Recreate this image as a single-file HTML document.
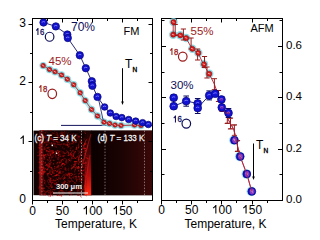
<!DOCTYPE html>
<html><head><meta charset="utf-8"><style>
html,body{margin:0;padding:0;background:#fff;width:304px;height:233px;overflow:hidden}
svg{display:block}
text{font-family:"Liberation Sans",sans-serif}
</style></head><body>
<svg width="304" height="233" viewBox="0 0 304 233">
<rect width="304" height="233" fill="#fff"/>
<rect x="33.5" y="130.6" width="118.5" height="64.6" fill="#120202"/>
<defs><linearGradient id="gd" x1="0" x2="1" y1="0" y2="0"><stop offset="0" stop-color="#0a0000"/><stop offset="0.5" stop-color="#1c0303"/><stop offset="1" stop-color="#3a0808"/></linearGradient><linearGradient id="gc" x1="0" x2="1" y1="0" y2="1"><stop offset="0" stop-color="#2a0404"/><stop offset="1" stop-color="#3a0606"/></linearGradient><radialGradient id="bright" cx="0.7" cy="0.9" r="0.8"><stop offset="0" stop-color="#ff1a10"/><stop offset="0.5" stop-color="#a00808"/><stop offset="1" stop-color="#200000" stop-opacity="0"/></radialGradient></defs>
<rect x="92" y="130.6" width="60" height="64.6" fill="url(#gd)"/>
<rect x="39.5" y="130.6" width="52.5" height="64.6" fill="#180202"/>
<line x1="54.6" y1="140.3" x2="53.7" y2="140.9" stroke="rgb(162,19,26)" stroke-width="0.8" opacity="0.85"/>
<line x1="49.5" y1="136.2" x2="50.9" y2="136.6" stroke="rgb(204,9,26)" stroke-width="0.8" opacity="0.87"/>
<line x1="68.8" y1="168.3" x2="67.8" y2="168.3" stroke="rgb(155,25,12)" stroke-width="1" opacity="0.58"/>
<line x1="64.6" y1="167.5" x2="66.1" y2="168.0" stroke="rgb(223,28,14)" stroke-width="1" opacity="0.40"/>
<line x1="72.6" y1="167.1" x2="71.3" y2="169.2" stroke="rgb(204,18,22)" stroke-width="1.2" opacity="0.86"/>
<line x1="56.3" y1="146.6" x2="56.1" y2="147.6" stroke="rgb(217,23,18)" stroke-width="1.2" opacity="0.60"/>
<line x1="67.8" y1="135.3" x2="66.7" y2="136.4" stroke="rgb(169,23,21)" stroke-width="0.8" opacity="0.88"/>
<line x1="43.1" y1="166.7" x2="44.1" y2="168.4" stroke="rgb(194,27,23)" stroke-width="1.2" opacity="0.79"/>
<line x1="42.7" y1="136.6" x2="43.7" y2="136.8" stroke="rgb(239,17,28)" stroke-width="1.2" opacity="0.90"/>
<line x1="77.7" y1="149.0" x2="76.7" y2="149.2" stroke="rgb(195,13,27)" stroke-width="0.8" opacity="0.62"/>
<line x1="49.6" y1="149.2" x2="50.5" y2="151.5" stroke="rgb(213,10,13)" stroke-width="1" opacity="0.57"/>
<line x1="52.4" y1="139.4" x2="54.3" y2="141.7" stroke="rgb(203,19,29)" stroke-width="1" opacity="0.88"/>
<line x1="46.5" y1="142.0" x2="48.0" y2="142.0" stroke="rgb(225,13,16)" stroke-width="1" opacity="0.35"/>
<line x1="59.0" y1="154.5" x2="58.1" y2="155.7" stroke="rgb(215,27,28)" stroke-width="1.2" opacity="0.76"/>
<line x1="60.7" y1="186.9" x2="61.7" y2="189.7" stroke="rgb(201,20,11)" stroke-width="1" opacity="0.70"/>
<line x1="42.4" y1="135.0" x2="43.8" y2="135.5" stroke="rgb(226,9,11)" stroke-width="0.8" opacity="0.66"/>
<line x1="64.5" y1="191.9" x2="63.5" y2="192.3" stroke="rgb(228,20,12)" stroke-width="1.2" opacity="0.49"/>
<line x1="55.7" y1="154.1" x2="55.8" y2="156.6" stroke="rgb(189,10,12)" stroke-width="0.8" opacity="0.76"/>
<line x1="73.9" y1="161.5" x2="76.9" y2="161.7" stroke="rgb(217,19,12)" stroke-width="1.2" opacity="0.65"/>
<line x1="40.8" y1="164.7" x2="40.2" y2="165.5" stroke="rgb(183,24,19)" stroke-width="0.8" opacity="0.55"/>
<line x1="49.9" y1="165.6" x2="49.3" y2="167.0" stroke="rgb(250,14,15)" stroke-width="1" opacity="0.76"/>
<line x1="50.0" y1="164.0" x2="49.0" y2="164.1" stroke="rgb(251,16,23)" stroke-width="1" opacity="0.46"/>
<line x1="67.6" y1="152.8" x2="65.7" y2="153.1" stroke="rgb(196,10,15)" stroke-width="0.8" opacity="0.47"/>
<line x1="48.6" y1="143.8" x2="46.0" y2="145.2" stroke="rgb(211,28,19)" stroke-width="1.2" opacity="0.40"/>
<line x1="70.2" y1="189.4" x2="70.3" y2="190.9" stroke="rgb(172,21,28)" stroke-width="1" opacity="0.40"/>
<line x1="83.5" y1="177.2" x2="82.8" y2="178.0" stroke="rgb(171,12,8)" stroke-width="0.8" opacity="0.67"/>
<line x1="61.1" y1="173.0" x2="58.1" y2="173.2" stroke="rgb(234,19,12)" stroke-width="1.2" opacity="0.65"/>
<line x1="40.5" y1="182.2" x2="40.4" y2="183.2" stroke="rgb(167,21,14)" stroke-width="0.8" opacity="0.37"/>
<line x1="49.4" y1="163.0" x2="50.8" y2="164.4" stroke="rgb(203,12,9)" stroke-width="1.2" opacity="0.54"/>
<line x1="60.8" y1="168.3" x2="58.7" y2="169.6" stroke="rgb(214,12,25)" stroke-width="0.8" opacity="0.64"/>
<line x1="40.4" y1="159.0" x2="39.6" y2="159.7" stroke="rgb(169,13,12)" stroke-width="1" opacity="0.69"/>
<line x1="45.1" y1="134.6" x2="44.6" y2="137.5" stroke="rgb(250,11,25)" stroke-width="0.8" opacity="0.49"/>
<line x1="52.4" y1="180.5" x2="55.4" y2="180.8" stroke="rgb(158,22,18)" stroke-width="1.2" opacity="0.89"/>
<line x1="67.7" y1="143.5" x2="67.6" y2="146.0" stroke="rgb(181,30,24)" stroke-width="1" opacity="0.86"/>
<line x1="57.7" y1="151.0" x2="60.2" y2="151.6" stroke="rgb(235,17,11)" stroke-width="0.8" opacity="0.87"/>
<line x1="61.2" y1="178.8" x2="59.8" y2="178.9" stroke="rgb(178,13,30)" stroke-width="1" opacity="0.90"/>
<line x1="58.3" y1="157.8" x2="57.6" y2="158.6" stroke="rgb(152,18,25)" stroke-width="1" opacity="0.59"/>
<line x1="40.3" y1="152.0" x2="37.4" y2="152.4" stroke="rgb(164,15,11)" stroke-width="0.8" opacity="0.50"/>
<line x1="41.3" y1="180.9" x2="40.1" y2="181.7" stroke="rgb(236,16,20)" stroke-width="0.8" opacity="0.65"/>
<line x1="76.7" y1="142.4" x2="74.7" y2="142.8" stroke="rgb(231,10,16)" stroke-width="0.8" opacity="0.68"/>
<line x1="85.7" y1="157.6" x2="88.5" y2="158.8" stroke="rgb(217,30,15)" stroke-width="0.8" opacity="0.88"/>
<line x1="51.7" y1="142.3" x2="51.5" y2="144.3" stroke="rgb(176,17,22)" stroke-width="1.2" opacity="0.72"/>
<line x1="52.1" y1="182.5" x2="53.1" y2="182.6" stroke="rgb(243,24,25)" stroke-width="0.8" opacity="0.63"/>
<line x1="50.9" y1="159.5" x2="49.7" y2="161.7" stroke="rgb(219,20,24)" stroke-width="1" opacity="0.73"/>
<line x1="85.2" y1="152.7" x2="85.6" y2="154.2" stroke="rgb(194,9,12)" stroke-width="0.8" opacity="0.39"/>
<line x1="78.6" y1="186.8" x2="78.0" y2="188.7" stroke="rgb(238,17,9)" stroke-width="1" opacity="0.45"/>
<line x1="52.0" y1="130.8" x2="50.0" y2="131.0" stroke="rgb(220,18,15)" stroke-width="0.8" opacity="0.88"/>
<line x1="61.6" y1="163.1" x2="62.5" y2="163.4" stroke="rgb(254,10,12)" stroke-width="1" opacity="0.67"/>
<line x1="57.8" y1="150.0" x2="57.6" y2="150.9" stroke="rgb(217,12,29)" stroke-width="1.2" opacity="0.78"/>
<line x1="67.2" y1="180.0" x2="69.5" y2="181.1" stroke="rgb(242,27,28)" stroke-width="0.8" opacity="0.37"/>
<line x1="78.3" y1="188.2" x2="81.1" y2="189.5" stroke="rgb(217,24,26)" stroke-width="0.8" opacity="0.80"/>
<line x1="66.7" y1="188.3" x2="68.1" y2="188.7" stroke="rgb(155,12,28)" stroke-width="1" opacity="0.88"/>
<line x1="42.8" y1="190.8" x2="42.3" y2="191.7" stroke="rgb(158,23,16)" stroke-width="0.8" opacity="0.82"/>
<line x1="50.4" y1="179.5" x2="50.5" y2="182.0" stroke="rgb(198,10,23)" stroke-width="1.2" opacity="0.51"/>
<line x1="41.7" y1="171.5" x2="44.4" y2="172.8" stroke="rgb(182,28,30)" stroke-width="1" opacity="0.69"/>
<line x1="45.7" y1="161.8" x2="45.1" y2="162.6" stroke="rgb(236,23,17)" stroke-width="1.2" opacity="0.63"/>
<line x1="61.1" y1="160.7" x2="61.9" y2="162.0" stroke="rgb(160,23,8)" stroke-width="1" opacity="0.60"/>
<line x1="49.3" y1="191.7" x2="52.1" y2="192.5" stroke="rgb(245,24,16)" stroke-width="1" opacity="0.42"/>
<line x1="77.6" y1="163.5" x2="79.1" y2="164.8" stroke="rgb(212,20,8)" stroke-width="0.8" opacity="0.35"/>
<line x1="55.5" y1="151.0" x2="56.0" y2="151.9" stroke="rgb(193,20,11)" stroke-width="0.8" opacity="0.74"/>
<line x1="52.3" y1="133.7" x2="51.5" y2="135.5" stroke="rgb(169,15,16)" stroke-width="1" opacity="0.63"/>
<line x1="48.3" y1="154.7" x2="47.5" y2="155.3" stroke="rgb(230,20,25)" stroke-width="1.2" opacity="0.46"/>
<line x1="43.2" y1="190.9" x2="41.1" y2="193.0" stroke="rgb(232,17,23)" stroke-width="0.8" opacity="0.85"/>
<line x1="51.4" y1="178.3" x2="50.2" y2="180.5" stroke="rgb(188,23,25)" stroke-width="1.2" opacity="0.57"/>
<line x1="47.3" y1="141.0" x2="46.9" y2="143.5" stroke="rgb(207,18,22)" stroke-width="1" opacity="0.43"/>
<line x1="48.4" y1="136.5" x2="49.0" y2="137.3" stroke="rgb(197,16,26)" stroke-width="0.8" opacity="0.84"/>
<line x1="74.4" y1="157.3" x2="76.0" y2="159.1" stroke="rgb(246,9,23)" stroke-width="1" opacity="0.67"/>
<line x1="56.2" y1="175.0" x2="57.7" y2="175.4" stroke="rgb(181,20,20)" stroke-width="1.2" opacity="0.60"/>
<line x1="83.9" y1="185.4" x2="84.8" y2="185.8" stroke="rgb(204,30,23)" stroke-width="1.2" opacity="0.62"/>
<line x1="42.9" y1="190.7" x2="40.2" y2="192.0" stroke="rgb(207,15,11)" stroke-width="0.8" opacity="0.43"/>
<line x1="63.8" y1="174.7" x2="66.2" y2="175.3" stroke="rgb(249,9,8)" stroke-width="0.8" opacity="0.48"/>
<line x1="51.2" y1="171.7" x2="52.2" y2="172.0" stroke="rgb(188,24,26)" stroke-width="0.8" opacity="0.56"/>
<line x1="60.9" y1="192.5" x2="61.0" y2="194.0" stroke="rgb(180,25,15)" stroke-width="0.8" opacity="0.88"/>
<line x1="70.9" y1="157.7" x2="72.4" y2="159.0" stroke="rgb(154,30,18)" stroke-width="1.2" opacity="0.58"/>
<line x1="71.2" y1="143.4" x2="74.2" y2="144.0" stroke="rgb(213,14,17)" stroke-width="0.8" opacity="0.48"/>
<line x1="49.8" y1="179.7" x2="49.8" y2="182.7" stroke="rgb(173,15,23)" stroke-width="1" opacity="0.85"/>
<line x1="42.1" y1="169.0" x2="42.9" y2="169.6" stroke="rgb(226,12,21)" stroke-width="0.8" opacity="0.74"/>
<line x1="48.1" y1="159.6" x2="46.7" y2="161.1" stroke="rgb(160,13,18)" stroke-width="0.8" opacity="0.45"/>
<line x1="83.0" y1="178.8" x2="80.8" y2="180.0" stroke="rgb(192,22,13)" stroke-width="0.8" opacity="0.35"/>
<line x1="52.5" y1="153.3" x2="52.3" y2="154.3" stroke="rgb(247,14,20)" stroke-width="1" opacity="0.77"/>
<line x1="53.9" y1="182.5" x2="54.4" y2="183.9" stroke="rgb(207,14,18)" stroke-width="1" opacity="0.76"/>
<line x1="61.6" y1="171.4" x2="64.0" y2="171.7" stroke="rgb(154,22,10)" stroke-width="0.8" opacity="0.49"/>
<line x1="84.0" y1="170.5" x2="82.1" y2="170.9" stroke="rgb(188,8,27)" stroke-width="1.2" opacity="0.87"/>
<line x1="42.5" y1="184.0" x2="40.1" y2="184.3" stroke="rgb(199,16,21)" stroke-width="1" opacity="0.42"/>
<line x1="62.6" y1="131.2" x2="60.9" y2="132.2" stroke="rgb(248,12,27)" stroke-width="0.8" opacity="0.53"/>
<line x1="54.4" y1="154.0" x2="54.3" y2="155.0" stroke="rgb(200,13,15)" stroke-width="1" opacity="0.39"/>
<line x1="41.1" y1="166.3" x2="38.7" y2="167.2" stroke="rgb(159,16,27)" stroke-width="0.8" opacity="0.46"/>
<line x1="59.1" y1="194.5" x2="60.2" y2="195.5" stroke="rgb(203,22,27)" stroke-width="1.2" opacity="0.48"/>
<line x1="64.5" y1="180.6" x2="65.8" y2="182.2" stroke="rgb(222,16,19)" stroke-width="1" opacity="0.76"/>
<line x1="48.8" y1="146.6" x2="49.7" y2="147.7" stroke="rgb(224,14,18)" stroke-width="0.8" opacity="0.57"/>
<line x1="85.6" y1="163.4" x2="83.1" y2="163.4" stroke="rgb(163,8,23)" stroke-width="0.8" opacity="0.81"/>
<line x1="48.3" y1="193.5" x2="48.7" y2="194.4" stroke="rgb(172,22,27)" stroke-width="1" opacity="0.78"/>
<line x1="70.4" y1="131.0" x2="71.8" y2="133.7" stroke="rgb(154,19,18)" stroke-width="0.8" opacity="0.37"/>
<line x1="86.0" y1="133.1" x2="85.2" y2="133.6" stroke="rgb(202,29,19)" stroke-width="0.8" opacity="0.69"/>
<line x1="43.1" y1="132.6" x2="45.6" y2="133.1" stroke="rgb(162,20,29)" stroke-width="1.2" opacity="0.44"/>
<line x1="75.1" y1="182.4" x2="73.5" y2="184.3" stroke="rgb(176,8,21)" stroke-width="0.8" opacity="0.58"/>
<line x1="77.6" y1="156.8" x2="75.8" y2="158.5" stroke="rgb(166,8,9)" stroke-width="1.2" opacity="0.43"/>
<line x1="77.0" y1="156.2" x2="79.6" y2="157.8" stroke="rgb(194,17,13)" stroke-width="1.2" opacity="0.44"/>
<line x1="42.6" y1="155.4" x2="43.5" y2="156.6" stroke="rgb(155,23,18)" stroke-width="0.8" opacity="0.68"/>
<line x1="69.1" y1="136.2" x2="68.5" y2="137.5" stroke="rgb(178,27,20)" stroke-width="1.2" opacity="0.82"/>
<line x1="73.2" y1="188.6" x2="72.7" y2="189.4" stroke="rgb(191,11,20)" stroke-width="1.2" opacity="0.60"/>
<line x1="51.1" y1="155.7" x2="51.7" y2="158.7" stroke="rgb(152,8,27)" stroke-width="1" opacity="0.61"/>
<line x1="60.3" y1="170.6" x2="59.0" y2="171.4" stroke="rgb(201,11,10)" stroke-width="0.8" opacity="0.55"/>
<line x1="56.5" y1="182.4" x2="57.5" y2="182.6" stroke="rgb(166,10,18)" stroke-width="1.2" opacity="0.63"/>
<line x1="42.0" y1="163.2" x2="43.5" y2="163.3" stroke="rgb(158,27,30)" stroke-width="0.8" opacity="0.46"/>
<line x1="85.2" y1="162.4" x2="84.3" y2="163.6" stroke="rgb(242,15,10)" stroke-width="1" opacity="0.69"/>
<line x1="51.2" y1="151.5" x2="53.5" y2="152.6" stroke="rgb(214,23,14)" stroke-width="1.2" opacity="0.49"/>
<line x1="47.0" y1="191.1" x2="49.2" y2="192.4" stroke="rgb(250,16,11)" stroke-width="1.2" opacity="0.38"/>
<line x1="79.4" y1="193.0" x2="80.1" y2="193.7" stroke="rgb(218,28,20)" stroke-width="1.2" opacity="0.79"/>
<line x1="51.8" y1="194.6" x2="52.8" y2="196.3" stroke="rgb(160,22,15)" stroke-width="0.8" opacity="0.69"/>
<line x1="84.4" y1="186.8" x2="83.1" y2="188.3" stroke="rgb(245,9,15)" stroke-width="0.8" opacity="0.51"/>
<line x1="65.9" y1="150.2" x2="68.2" y2="152.2" stroke="rgb(224,17,26)" stroke-width="0.8" opacity="0.46"/>
<line x1="68.5" y1="161.3" x2="67.6" y2="162.5" stroke="rgb(207,11,10)" stroke-width="1.2" opacity="0.43"/>
<line x1="70.4" y1="148.0" x2="71.4" y2="148.2" stroke="rgb(255,25,19)" stroke-width="1.2" opacity="0.71"/>
<line x1="60.1" y1="191.1" x2="61.4" y2="191.9" stroke="rgb(150,9,9)" stroke-width="1.2" opacity="0.36"/>
<line x1="48.1" y1="140.9" x2="49.1" y2="140.9" stroke="rgb(220,29,14)" stroke-width="0.8" opacity="0.58"/>
<line x1="63.6" y1="172.1" x2="61.5" y2="173.5" stroke="rgb(172,24,17)" stroke-width="0.8" opacity="0.52"/>
<line x1="41.8" y1="188.1" x2="44.8" y2="188.1" stroke="rgb(205,22,10)" stroke-width="1.2" opacity="0.71"/>
<line x1="47.7" y1="195.0" x2="48.6" y2="195.4" stroke="rgb(245,30,16)" stroke-width="1.2" opacity="0.38"/>
<line x1="69.1" y1="174.5" x2="66.1" y2="174.7" stroke="rgb(187,28,14)" stroke-width="0.8" opacity="0.83"/>
<line x1="40.2" y1="147.4" x2="38.7" y2="147.7" stroke="rgb(245,18,14)" stroke-width="1" opacity="0.53"/>
<line x1="50.6" y1="189.2" x2="50.9" y2="192.2" stroke="rgb(217,30,8)" stroke-width="0.8" opacity="0.59"/>
<line x1="68.5" y1="135.6" x2="69.9" y2="135.8" stroke="rgb(164,11,27)" stroke-width="0.8" opacity="0.54"/>
<line x1="46.1" y1="132.5" x2="45.5" y2="133.3" stroke="rgb(244,9,10)" stroke-width="1.2" opacity="0.77"/>
<line x1="48.8" y1="192.3" x2="47.8" y2="192.6" stroke="rgb(246,30,20)" stroke-width="0.8" opacity="0.49"/>
<line x1="48.9" y1="132.8" x2="48.1" y2="133.3" stroke="rgb(230,28,17)" stroke-width="1" opacity="0.40"/>
<line x1="44.1" y1="179.5" x2="45.0" y2="181.3" stroke="rgb(183,8,19)" stroke-width="1" opacity="0.86"/>
<line x1="41.8" y1="179.7" x2="41.7" y2="182.7" stroke="rgb(186,27,8)" stroke-width="1" opacity="0.37"/>
<line x1="63.6" y1="137.0" x2="63.5" y2="137.9" stroke="rgb(177,30,10)" stroke-width="1.2" opacity="0.80"/>
<line x1="47.4" y1="130.7" x2="48.4" y2="130.7" stroke="rgb(212,11,23)" stroke-width="1.2" opacity="0.79"/>
<line x1="48.1" y1="162.5" x2="50.1" y2="164.7" stroke="rgb(170,17,14)" stroke-width="1.2" opacity="0.48"/>
<line x1="47.2" y1="191.2" x2="45.2" y2="192.8" stroke="rgb(239,25,11)" stroke-width="1.2" opacity="0.53"/>
<line x1="43.9" y1="190.6" x2="44.2" y2="191.6" stroke="rgb(232,8,19)" stroke-width="0.8" opacity="0.52"/>
<line x1="59.4" y1="165.8" x2="57.9" y2="166.1" stroke="rgb(166,25,27)" stroke-width="1.2" opacity="0.76"/>
<line x1="78.7" y1="173.4" x2="78.9" y2="174.9" stroke="rgb(238,16,26)" stroke-width="0.8" opacity="0.42"/>
<line x1="53.5" y1="176.0" x2="52.6" y2="177.2" stroke="rgb(181,18,27)" stroke-width="1.2" opacity="0.54"/>
<line x1="50.5" y1="192.3" x2="51.4" y2="192.8" stroke="rgb(234,11,14)" stroke-width="1" opacity="0.43"/>
<line x1="46.4" y1="150.1" x2="48.0" y2="151.3" stroke="rgb(231,11,16)" stroke-width="0.8" opacity="0.84"/>
<line x1="61.1" y1="131.4" x2="59.6" y2="133.5" stroke="rgb(214,28,17)" stroke-width="1" opacity="0.36"/>
<line x1="79.2" y1="175.9" x2="78.4" y2="177.2" stroke="rgb(233,28,30)" stroke-width="1.2" opacity="0.82"/>
<line x1="68.7" y1="136.9" x2="69.8" y2="138.0" stroke="rgb(204,23,22)" stroke-width="0.8" opacity="0.69"/>
<line x1="58.5" y1="174.2" x2="57.1" y2="174.7" stroke="rgb(191,8,20)" stroke-width="1" opacity="0.85"/>
<line x1="44.4" y1="146.8" x2="44.4" y2="148.3" stroke="rgb(162,26,22)" stroke-width="1.2" opacity="0.46"/>
<line x1="61.6" y1="131.6" x2="61.5" y2="133.6" stroke="rgb(202,22,14)" stroke-width="1.2" opacity="0.45"/>
<line x1="63.4" y1="190.9" x2="64.7" y2="193.5" stroke="rgb(157,16,16)" stroke-width="1" opacity="0.57"/>
<line x1="40.1" y1="157.6" x2="39.6" y2="159.6" stroke="rgb(163,15,17)" stroke-width="1.2" opacity="0.57"/>
<line x1="83.8" y1="193.4" x2="84.1" y2="195.8" stroke="rgb(171,12,10)" stroke-width="1.2" opacity="0.46"/>
<line x1="69.4" y1="177.2" x2="70.0" y2="178.5" stroke="rgb(231,21,22)" stroke-width="1" opacity="0.77"/>
<line x1="69.7" y1="181.0" x2="70.7" y2="182.1" stroke="rgb(198,29,16)" stroke-width="1" opacity="0.72"/>
<line x1="61.9" y1="182.6" x2="63.3" y2="184.0" stroke="rgb(188,18,23)" stroke-width="1" opacity="0.59"/>
<line x1="69.1" y1="173.2" x2="71.6" y2="173.6" stroke="rgb(255,26,18)" stroke-width="0.8" opacity="0.64"/>
<line x1="55.5" y1="168.2" x2="54.1" y2="168.5" stroke="rgb(233,17,16)" stroke-width="1.2" opacity="0.41"/>
<line x1="46.1" y1="145.7" x2="44.6" y2="146.9" stroke="rgb(176,20,25)" stroke-width="0.8" opacity="0.69"/>
<line x1="71.5" y1="193.7" x2="69.1" y2="195.6" stroke="rgb(188,14,23)" stroke-width="1.2" opacity="0.47"/>
<line x1="43.2" y1="184.8" x2="43.0" y2="185.8" stroke="rgb(183,21,15)" stroke-width="0.8" opacity="0.61"/>
<line x1="65.4" y1="161.9" x2="67.2" y2="163.6" stroke="rgb(171,25,27)" stroke-width="1.2" opacity="0.35"/>
<line x1="78.6" y1="160.8" x2="79.6" y2="163.1" stroke="rgb(203,29,10)" stroke-width="0.8" opacity="0.70"/>
<line x1="69.1" y1="132.4" x2="67.4" y2="133.6" stroke="rgb(162,24,23)" stroke-width="1" opacity="0.77"/>
<line x1="46.2" y1="144.4" x2="46.9" y2="145.7" stroke="rgb(234,19,18)" stroke-width="1" opacity="0.78"/>
<line x1="51.2" y1="134.0" x2="49.5" y2="135.0" stroke="rgb(201,18,24)" stroke-width="1" opacity="0.83"/>
<line x1="55.5" y1="143.7" x2="56.0" y2="144.6" stroke="rgb(190,30,17)" stroke-width="0.8" opacity="0.67"/>
<line x1="69.0" y1="181.3" x2="68.7" y2="183.7" stroke="rgb(156,20,17)" stroke-width="0.8" opacity="0.35"/>
<line x1="48.3" y1="190.1" x2="47.5" y2="190.7" stroke="rgb(219,27,20)" stroke-width="1.2" opacity="0.43"/>
<line x1="70.8" y1="175.1" x2="71.6" y2="175.7" stroke="rgb(235,28,22)" stroke-width="1.2" opacity="0.77"/>
<line x1="44.2" y1="142.3" x2="44.6" y2="143.2" stroke="rgb(255,12,17)" stroke-width="1.2" opacity="0.74"/>
<line x1="65.8" y1="168.0" x2="65.3" y2="170.4" stroke="rgb(155,11,21)" stroke-width="1.2" opacity="0.73"/>
<line x1="58.3" y1="134.9" x2="57.5" y2="137.8" stroke="rgb(234,12,23)" stroke-width="1" opacity="0.65"/>
<line x1="43.4" y1="161.1" x2="43.6" y2="162.1" stroke="rgb(151,29,29)" stroke-width="0.8" opacity="0.89"/>
<line x1="52.3" y1="167.4" x2="50.9" y2="167.7" stroke="rgb(196,30,30)" stroke-width="0.8" opacity="0.75"/>
<line x1="43.4" y1="171.2" x2="42.1" y2="173.4" stroke="rgb(182,9,30)" stroke-width="0.8" opacity="0.36"/>
<line x1="40.2" y1="172.6" x2="40.5" y2="173.6" stroke="rgb(189,27,13)" stroke-width="1" opacity="0.68"/>
<line x1="54.2" y1="191.9" x2="52.9" y2="194.0" stroke="rgb(168,11,19)" stroke-width="1.2" opacity="0.44"/>
<line x1="76.8" y1="161.4" x2="74.3" y2="161.8" stroke="rgb(250,26,18)" stroke-width="1" opacity="0.50"/>
<line x1="68.4" y1="172.7" x2="69.9" y2="175.2" stroke="rgb(227,8,12)" stroke-width="1.2" opacity="0.81"/>
<line x1="82.3" y1="179.9" x2="80.6" y2="180.9" stroke="rgb(253,26,12)" stroke-width="1" opacity="0.89"/>
<line x1="76.6" y1="166.0" x2="77.7" y2="168.2" stroke="rgb(160,25,25)" stroke-width="1" opacity="0.79"/>
<line x1="48.8" y1="179.1" x2="49.7" y2="180.3" stroke="rgb(157,29,20)" stroke-width="1" opacity="0.74"/>
<line x1="58.0" y1="164.3" x2="58.2" y2="166.3" stroke="rgb(225,14,14)" stroke-width="0.8" opacity="0.46"/>
<line x1="47.9" y1="175.9" x2="49.2" y2="178.6" stroke="rgb(249,24,12)" stroke-width="0.8" opacity="0.37"/>
<line x1="85.9" y1="154.8" x2="86.7" y2="155.2" stroke="rgb(226,8,19)" stroke-width="1" opacity="0.64"/>
<line x1="40.5" y1="132.8" x2="40.6" y2="135.8" stroke="rgb(222,14,16)" stroke-width="1" opacity="0.58"/>
<line x1="83.5" y1="180.2" x2="84.6" y2="181.2" stroke="rgb(154,18,14)" stroke-width="0.8" opacity="0.56"/>
<line x1="40.8" y1="132.8" x2="40.9" y2="135.3" stroke="rgb(158,27,28)" stroke-width="1" opacity="0.86"/>
<line x1="43.7" y1="190.1" x2="43.9" y2="191.6" stroke="rgb(170,19,15)" stroke-width="1.2" opacity="0.47"/>
<line x1="41.3" y1="147.1" x2="38.4" y2="148.0" stroke="rgb(156,16,24)" stroke-width="1.2" opacity="0.76"/>
<line x1="39.8" y1="143.5" x2="38.9" y2="146.3" stroke="rgb(247,28,11)" stroke-width="1" opacity="0.53"/>
<line x1="51.5" y1="138.6" x2="51.7" y2="140.1" stroke="rgb(253,12,29)" stroke-width="0.8" opacity="0.61"/>
<line x1="81.9" y1="182.2" x2="81.0" y2="182.4" stroke="rgb(197,12,22)" stroke-width="0.8" opacity="0.86"/>
<line x1="57.4" y1="132.0" x2="55.7" y2="133.1" stroke="rgb(211,11,28)" stroke-width="1" opacity="0.43"/>
<line x1="49.8" y1="134.3" x2="47.0" y2="135.3" stroke="rgb(206,12,16)" stroke-width="1" opacity="0.58"/>
<line x1="46.7" y1="148.1" x2="45.1" y2="149.3" stroke="rgb(183,23,11)" stroke-width="1" opacity="0.60"/>
<line x1="61.9" y1="140.5" x2="61.7" y2="142.0" stroke="rgb(186,11,16)" stroke-width="0.8" opacity="0.88"/>
<line x1="57.6" y1="157.5" x2="59.4" y2="158.3" stroke="rgb(231,8,22)" stroke-width="1.2" opacity="0.54"/>
<line x1="46.0" y1="130.7" x2="47.9" y2="133.1" stroke="rgb(196,21,9)" stroke-width="1" opacity="0.47"/>
<line x1="66.1" y1="139.5" x2="67.3" y2="140.4" stroke="rgb(160,10,27)" stroke-width="1.2" opacity="0.62"/>
<line x1="52.2" y1="143.9" x2="51.8" y2="145.4" stroke="rgb(175,8,10)" stroke-width="1.2" opacity="0.75"/>
<line x1="58.5" y1="177.2" x2="59.7" y2="178.8" stroke="rgb(231,23,10)" stroke-width="0.8" opacity="0.58"/>
<line x1="75.0" y1="139.2" x2="76.2" y2="140.0" stroke="rgb(196,9,13)" stroke-width="1.2" opacity="0.55"/>
<line x1="67.2" y1="130.9" x2="64.7" y2="131.1" stroke="rgb(159,11,19)" stroke-width="1.2" opacity="0.48"/>
<line x1="78.1" y1="189.6" x2="77.5" y2="192.0" stroke="rgb(157,17,11)" stroke-width="1.2" opacity="0.62"/>
<line x1="63.4" y1="164.9" x2="64.1" y2="165.6" stroke="rgb(161,15,27)" stroke-width="0.8" opacity="0.44"/>
<line x1="54.0" y1="166.5" x2="55.0" y2="166.8" stroke="rgb(239,14,16)" stroke-width="0.8" opacity="0.81"/>
<line x1="61.1" y1="168.4" x2="62.0" y2="168.8" stroke="rgb(201,12,25)" stroke-width="1.2" opacity="0.48"/>
<line x1="50.1" y1="173.8" x2="52.2" y2="175.0" stroke="rgb(255,8,28)" stroke-width="1" opacity="0.73"/>
<line x1="67.3" y1="169.5" x2="66.5" y2="170.2" stroke="rgb(193,20,15)" stroke-width="1" opacity="0.74"/>
<line x1="78.7" y1="167.1" x2="77.0" y2="168.2" stroke="rgb(221,9,18)" stroke-width="1.2" opacity="0.43"/>
<line x1="71.1" y1="153.4" x2="71.5" y2="154.3" stroke="rgb(217,13,10)" stroke-width="1" opacity="0.59"/>
<line x1="63.0" y1="131.9" x2="62.0" y2="134.2" stroke="rgb(253,9,9)" stroke-width="1.2" opacity="0.69"/>
<line x1="82.2" y1="170.9" x2="81.8" y2="171.8" stroke="rgb(182,11,24)" stroke-width="0.8" opacity="0.59"/>
<line x1="83.7" y1="149.2" x2="84.7" y2="149.4" stroke="rgb(215,16,10)" stroke-width="1" opacity="0.67"/>
<line x1="82.8" y1="159.0" x2="82.2" y2="161.4" stroke="rgb(185,15,10)" stroke-width="1.2" opacity="0.65"/>
<line x1="78.5" y1="170.0" x2="78.3" y2="171.5" stroke="rgb(196,22,25)" stroke-width="1" opacity="0.69"/>
<line x1="63.3" y1="155.4" x2="62.4" y2="155.6" stroke="rgb(170,15,18)" stroke-width="1.2" opacity="0.53"/>
<line x1="52.1" y1="187.3" x2="51.3" y2="188.0" stroke="rgb(170,25,10)" stroke-width="1.2" opacity="0.83"/>
<line x1="60.0" y1="134.6" x2="61.1" y2="136.8" stroke="rgb(247,11,24)" stroke-width="0.8" opacity="0.89"/>
<line x1="71.0" y1="190.9" x2="70.2" y2="192.2" stroke="rgb(228,27,16)" stroke-width="1.2" opacity="0.40"/>
<line x1="79.3" y1="190.2" x2="77.8" y2="191.4" stroke="rgb(240,28,30)" stroke-width="0.8" opacity="0.58"/>
<line x1="44.3" y1="157.1" x2="44.3" y2="158.1" stroke="rgb(223,12,21)" stroke-width="1" opacity="0.83"/>
<line x1="73.1" y1="149.5" x2="72.0" y2="151.8" stroke="rgb(150,23,20)" stroke-width="1" opacity="0.52"/>
<line x1="64.5" y1="182.5" x2="63.8" y2="184.9" stroke="rgb(161,18,18)" stroke-width="1.2" opacity="0.81"/>
<line x1="84.1" y1="143.8" x2="85.1" y2="143.9" stroke="rgb(182,26,23)" stroke-width="1" opacity="0.86"/>
<line x1="75.5" y1="165.4" x2="72.9" y2="166.9" stroke="rgb(243,29,21)" stroke-width="1" opacity="0.61"/>
<line x1="41.4" y1="174.3" x2="40.9" y2="175.1" stroke="rgb(217,15,11)" stroke-width="1" opacity="0.56"/>
<line x1="58.1" y1="166.9" x2="56.7" y2="167.0" stroke="rgb(212,20,22)" stroke-width="1.2" opacity="0.84"/>
<line x1="66.8" y1="175.3" x2="67.7" y2="175.8" stroke="rgb(190,19,10)" stroke-width="1" opacity="0.63"/>
<line x1="44.6" y1="188.4" x2="41.8" y2="189.4" stroke="rgb(203,28,13)" stroke-width="1.2" opacity="0.51"/>
<line x1="68.8" y1="169.6" x2="68.2" y2="170.4" stroke="rgb(151,8,17)" stroke-width="1.2" opacity="0.73"/>
<line x1="39.7" y1="150.3" x2="42.7" y2="150.4" stroke="rgb(153,14,13)" stroke-width="1" opacity="0.77"/>
<line x1="65.9" y1="186.9" x2="62.9" y2="186.9" stroke="rgb(223,14,21)" stroke-width="1.2" opacity="0.42"/>
<line x1="47.4" y1="164.4" x2="48.1" y2="167.3" stroke="rgb(252,9,28)" stroke-width="0.8" opacity="0.73"/>
<line x1="41.0" y1="171.2" x2="44.0" y2="171.8" stroke="rgb(174,22,27)" stroke-width="1" opacity="0.36"/>
<line x1="49.7" y1="156.2" x2="49.9" y2="157.2" stroke="rgb(229,15,15)" stroke-width="0.8" opacity="0.37"/>
<line x1="82.8" y1="185.8" x2="84.2" y2="187.9" stroke="rgb(227,16,23)" stroke-width="0.8" opacity="0.48"/>
<line x1="80.2" y1="161.9" x2="81.6" y2="162.3" stroke="rgb(171,19,20)" stroke-width="0.8" opacity="0.35"/>
<line x1="80.0" y1="152.3" x2="77.9" y2="153.6" stroke="rgb(194,25,15)" stroke-width="1" opacity="0.46"/>
<line x1="52.7" y1="145.9" x2="51.1" y2="147.1" stroke="rgb(180,30,12)" stroke-width="0.8" opacity="0.46"/>
<line x1="64.8" y1="181.5" x2="62.7" y2="182.7" stroke="rgb(253,15,13)" stroke-width="1" opacity="0.54"/>
<line x1="73.1" y1="154.9" x2="74.0" y2="156.2" stroke="rgb(210,24,14)" stroke-width="0.8" opacity="0.82"/>
<line x1="70.9" y1="191.5" x2="68.0" y2="192.4" stroke="rgb(225,19,25)" stroke-width="0.8" opacity="0.57"/>
<line x1="63.2" y1="138.7" x2="66.1" y2="139.6" stroke="rgb(184,20,8)" stroke-width="1.2" opacity="0.75"/>
<line x1="46.2" y1="131.6" x2="45.1" y2="132.5" stroke="rgb(179,18,14)" stroke-width="1.2" opacity="0.84"/>
<line x1="42.7" y1="189.6" x2="44.3" y2="190.8" stroke="rgb(241,17,10)" stroke-width="0.8" opacity="0.51"/>
<line x1="77.5" y1="156.4" x2="75.6" y2="158.0" stroke="rgb(230,12,16)" stroke-width="0.8" opacity="0.37"/>
<line x1="70.1" y1="175.8" x2="68.2" y2="176.4" stroke="rgb(162,13,17)" stroke-width="0.8" opacity="0.50"/>
<line x1="67.8" y1="144.8" x2="70.3" y2="145.1" stroke="rgb(170,21,14)" stroke-width="1" opacity="0.44"/>
<line x1="73.8" y1="166.3" x2="73.5" y2="167.8" stroke="rgb(179,26,23)" stroke-width="1.2" opacity="0.64"/>
<line x1="82.5" y1="173.9" x2="81.7" y2="174.4" stroke="rgb(249,28,17)" stroke-width="0.8" opacity="0.83"/>
<line x1="66.7" y1="175.6" x2="67.7" y2="175.7" stroke="rgb(190,14,19)" stroke-width="1.2" opacity="0.85"/>
<line x1="58.9" y1="178.7" x2="56.3" y2="180.2" stroke="rgb(185,24,10)" stroke-width="1" opacity="0.87"/>
<line x1="59.2" y1="190.7" x2="59.1" y2="193.2" stroke="rgb(236,30,14)" stroke-width="1" opacity="0.72"/>
<line x1="47.1" y1="181.0" x2="48.5" y2="182.5" stroke="rgb(157,13,19)" stroke-width="1" opacity="0.58"/>
<line x1="48.9" y1="150.7" x2="50.7" y2="152.4" stroke="rgb(180,8,24)" stroke-width="1.2" opacity="0.59"/>
<line x1="83.0" y1="153.3" x2="82.6" y2="154.7" stroke="rgb(180,18,28)" stroke-width="0.8" opacity="0.65"/>
<line x1="74.9" y1="141.5" x2="71.9" y2="141.7" stroke="rgb(248,20,14)" stroke-width="0.8" opacity="0.73"/>
<line x1="40.1" y1="162.0" x2="41.2" y2="163.7" stroke="rgb(164,30,17)" stroke-width="1" opacity="0.88"/>
<line x1="47.0" y1="159.4" x2="48.7" y2="160.4" stroke="rgb(159,9,8)" stroke-width="1" opacity="0.90"/>
<line x1="74.4" y1="136.0" x2="76.4" y2="138.2" stroke="rgb(232,23,21)" stroke-width="1" opacity="0.45"/>
<line x1="64.8" y1="131.1" x2="64.0" y2="133.0" stroke="rgb(243,28,30)" stroke-width="1" opacity="0.71"/>
<line x1="46.2" y1="154.4" x2="43.6" y2="155.8" stroke="rgb(237,13,11)" stroke-width="1.2" opacity="0.81"/>
<line x1="74.0" y1="151.7" x2="75.5" y2="153.0" stroke="rgb(167,25,19)" stroke-width="1" opacity="0.48"/>
<line x1="41.4" y1="167.2" x2="39.0" y2="168.0" stroke="rgb(177,23,21)" stroke-width="1" opacity="0.75"/>
<line x1="50.1" y1="139.5" x2="52.5" y2="140.2" stroke="rgb(155,22,23)" stroke-width="0.8" opacity="0.47"/>
<line x1="56.8" y1="132.7" x2="57.5" y2="135.6" stroke="rgb(186,10,29)" stroke-width="0.8" opacity="0.63"/>
<line x1="59.1" y1="152.5" x2="57.7" y2="152.9" stroke="rgb(171,20,17)" stroke-width="0.8" opacity="0.59"/>
<line x1="54.6" y1="160.3" x2="53.1" y2="160.5" stroke="rgb(227,27,10)" stroke-width="0.8" opacity="0.75"/>
<line x1="54.9" y1="173.1" x2="52.4" y2="173.5" stroke="rgb(211,29,28)" stroke-width="0.8" opacity="0.51"/>
<line x1="71.1" y1="159.5" x2="70.7" y2="161.5" stroke="rgb(203,19,24)" stroke-width="0.8" opacity="0.66"/>
<line x1="57.9" y1="138.0" x2="55.8" y2="140.1" stroke="rgb(178,16,28)" stroke-width="0.8" opacity="0.45"/>
<line x1="64.7" y1="175.6" x2="64.0" y2="178.5" stroke="rgb(202,29,10)" stroke-width="1" opacity="0.42"/>
<line x1="62.9" y1="163.4" x2="62.5" y2="164.3" stroke="rgb(242,24,11)" stroke-width="1" opacity="0.81"/>
<line x1="57.7" y1="141.7" x2="58.0" y2="144.7" stroke="rgb(161,12,19)" stroke-width="1.2" opacity="0.38"/>
<line x1="50.5" y1="154.7" x2="50.7" y2="156.1" stroke="rgb(165,30,12)" stroke-width="1" opacity="0.85"/>
<line x1="43.6" y1="194.5" x2="42.6" y2="194.7" stroke="rgb(195,13,19)" stroke-width="1.2" opacity="0.81"/>
<line x1="50.6" y1="163.8" x2="49.3" y2="165.3" stroke="rgb(155,27,19)" stroke-width="0.8" opacity="0.55"/>
<line x1="54.7" y1="169.6" x2="55.8" y2="170.6" stroke="rgb(174,30,22)" stroke-width="0.8" opacity="0.81"/>
<line x1="71.5" y1="155.2" x2="68.5" y2="155.2" stroke="rgb(247,16,22)" stroke-width="0.8" opacity="0.36"/>
<line x1="78.4" y1="135.4" x2="79.4" y2="138.3" stroke="rgb(210,13,30)" stroke-width="1" opacity="0.57"/>
<line x1="49.6" y1="188.4" x2="50.3" y2="189.0" stroke="rgb(254,19,22)" stroke-width="1" opacity="0.67"/>
<line x1="57.5" y1="153.4" x2="59.1" y2="154.8" stroke="rgb(181,22,27)" stroke-width="0.8" opacity="0.70"/>
<line x1="85.6" y1="153.7" x2="84.1" y2="153.7" stroke="rgb(154,25,11)" stroke-width="0.8" opacity="0.78"/>
<line x1="76.5" y1="187.0" x2="77.1" y2="187.8" stroke="rgb(247,18,19)" stroke-width="1.2" opacity="0.82"/>
<line x1="50.9" y1="187.0" x2="52.9" y2="187.4" stroke="rgb(193,29,18)" stroke-width="1" opacity="0.63"/>
<line x1="81.1" y1="182.9" x2="82.4" y2="183.5" stroke="rgb(150,29,22)" stroke-width="1" opacity="0.60"/>
<line x1="53.5" y1="150.5" x2="52.1" y2="153.2" stroke="rgb(193,10,14)" stroke-width="1.2" opacity="0.86"/>
<line x1="84.6" y1="175.2" x2="86.0" y2="177.3" stroke="rgb(172,16,16)" stroke-width="1.2" opacity="0.36"/>
<line x1="47.2" y1="147.9" x2="48.6" y2="148.1" stroke="rgb(207,14,27)" stroke-width="1" opacity="0.83"/>
<line x1="69.6" y1="143.3" x2="69.2" y2="144.7" stroke="rgb(160,10,26)" stroke-width="1" opacity="0.75"/>
<line x1="39.7" y1="148.1" x2="39.3" y2="149.0" stroke="rgb(153,14,18)" stroke-width="1" opacity="0.83"/>
<line x1="40.8" y1="162.0" x2="42.5" y2="163.1" stroke="rgb(203,9,10)" stroke-width="1.2" opacity="0.69"/>
<line x1="75.6" y1="194.4" x2="76.6" y2="194.5" stroke="rgb(190,26,28)" stroke-width="1" opacity="0.38"/>
<line x1="46.8" y1="139.8" x2="47.2" y2="140.7" stroke="rgb(196,21,19)" stroke-width="1.2" opacity="0.72"/>
<line x1="79.8" y1="140.5" x2="81.3" y2="143.1" stroke="rgb(244,27,16)" stroke-width="1.2" opacity="0.61"/>
<line x1="41.0" y1="172.4" x2="38.0" y2="172.6" stroke="rgb(208,25,16)" stroke-width="1" opacity="0.64"/>
<line x1="70.0" y1="180.6" x2="70.4" y2="182.0" stroke="rgb(161,8,27)" stroke-width="0.8" opacity="0.42"/>
<line x1="64.8" y1="143.8" x2="62.8" y2="144.2" stroke="rgb(196,12,13)" stroke-width="1.2" opacity="0.82"/>
<line x1="75.7" y1="164.7" x2="73.2" y2="164.9" stroke="rgb(213,14,28)" stroke-width="1" opacity="0.85"/>
<line x1="57.6" y1="144.3" x2="58.5" y2="144.6" stroke="rgb(243,8,10)" stroke-width="1.2" opacity="0.85"/>
<line x1="81.7" y1="154.9" x2="82.4" y2="155.6" stroke="rgb(183,30,21)" stroke-width="0.8" opacity="0.48"/>
<line x1="48.9" y1="179.6" x2="47.1" y2="180.4" stroke="rgb(213,14,26)" stroke-width="0.8" opacity="0.61"/>
<line x1="82.9" y1="180.3" x2="81.7" y2="181.1" stroke="rgb(186,10,18)" stroke-width="0.8" opacity="0.62"/>
<line x1="80.9" y1="141.0" x2="82.9" y2="142.6" stroke="rgb(156,14,19)" stroke-width="0.8" opacity="0.78"/>
<line x1="79.6" y1="142.4" x2="78.5" y2="144.0" stroke="rgb(253,11,12)" stroke-width="0.8" opacity="0.42"/>
<line x1="53.6" y1="163.1" x2="53.7" y2="164.6" stroke="rgb(200,10,21)" stroke-width="1" opacity="0.70"/>
<line x1="70.4" y1="156.2" x2="72.7" y2="158.2" stroke="rgb(251,28,30)" stroke-width="0.8" opacity="0.37"/>
<line x1="63.0" y1="145.6" x2="62.3" y2="146.3" stroke="rgb(156,18,10)" stroke-width="0.8" opacity="0.42"/>
<line x1="62.2" y1="139.4" x2="63.3" y2="140.3" stroke="rgb(219,12,28)" stroke-width="1.2" opacity="0.65"/>
<line x1="85.7" y1="164.8" x2="86.1" y2="165.7" stroke="rgb(177,15,10)" stroke-width="1" opacity="0.74"/>
<line x1="40.2" y1="148.0" x2="40.2" y2="149.5" stroke="rgb(202,25,19)" stroke-width="1" opacity="0.36"/>
<line x1="71.5" y1="172.8" x2="73.0" y2="175.4" stroke="rgb(202,30,16)" stroke-width="1" opacity="0.58"/>
<line x1="64.6" y1="155.3" x2="62.6" y2="156.8" stroke="rgb(231,8,15)" stroke-width="1.2" opacity="0.63"/>
<line x1="85.5" y1="175.4" x2="84.7" y2="176.7" stroke="rgb(161,27,9)" stroke-width="1.2" opacity="0.38"/>
<line x1="71.8" y1="151.6" x2="70.3" y2="154.1" stroke="rgb(208,26,8)" stroke-width="1" opacity="0.76"/>
<line x1="79.2" y1="163.6" x2="77.9" y2="164.3" stroke="rgb(251,20,19)" stroke-width="1.2" opacity="0.39"/>
<line x1="84.9" y1="147.8" x2="84.5" y2="148.7" stroke="rgb(219,29,15)" stroke-width="1.2" opacity="0.77"/>
<line x1="51.7" y1="184.9" x2="51.6" y2="186.9" stroke="rgb(211,26,15)" stroke-width="0.8" opacity="0.39"/>
<line x1="56.5" y1="174.1" x2="55.9" y2="175.5" stroke="rgb(255,28,9)" stroke-width="1" opacity="0.56"/>
<line x1="51.2" y1="137.2" x2="51.0" y2="140.2" stroke="rgb(207,29,10)" stroke-width="1" opacity="0.57"/>
<line x1="76.6" y1="179.6" x2="76.7" y2="181.6" stroke="rgb(234,15,27)" stroke-width="1" opacity="0.64"/>
<line x1="51.6" y1="168.8" x2="53.5" y2="171.0" stroke="rgb(191,16,15)" stroke-width="1" opacity="0.81"/>
<line x1="43.7" y1="171.7" x2="45.1" y2="172.3" stroke="rgb(251,17,27)" stroke-width="1" opacity="0.86"/>
<line x1="72.9" y1="154.9" x2="73.4" y2="157.3" stroke="rgb(227,16,19)" stroke-width="0.8" opacity="0.56"/>
<line x1="66.4" y1="190.3" x2="67.6" y2="193.1" stroke="rgb(235,14,18)" stroke-width="0.8" opacity="0.39"/>
<line x1="60.2" y1="156.0" x2="61.2" y2="156.3" stroke="rgb(222,22,22)" stroke-width="1.2" opacity="0.81"/>
<line x1="58.8" y1="161.2" x2="59.6" y2="163.6" stroke="rgb(167,24,8)" stroke-width="1.2" opacity="0.48"/>
<line x1="48.8" y1="165.6" x2="48.5" y2="167.6" stroke="rgb(248,20,22)" stroke-width="0.8" opacity="0.40"/>
<line x1="78.9" y1="144.5" x2="78.0" y2="145.7" stroke="rgb(211,9,25)" stroke-width="1.2" opacity="0.76"/>
<line x1="68.6" y1="151.3" x2="67.1" y2="151.4" stroke="rgb(185,24,16)" stroke-width="0.8" opacity="0.52"/>
<line x1="51.4" y1="186.1" x2="48.5" y2="187.1" stroke="rgb(237,9,17)" stroke-width="1" opacity="0.49"/>
<line x1="57.2" y1="158.8" x2="58.8" y2="160.0" stroke="rgb(156,14,25)" stroke-width="1.2" opacity="0.56"/>
<line x1="61.1" y1="162.2" x2="59.1" y2="162.6" stroke="rgb(193,14,22)" stroke-width="1.2" opacity="0.66"/>
<line x1="41.9" y1="150.9" x2="39.4" y2="151.3" stroke="rgb(255,18,9)" stroke-width="1" opacity="0.47"/>
<line x1="59.9" y1="143.6" x2="60.3" y2="146.5" stroke="rgb(243,22,14)" stroke-width="0.8" opacity="0.38"/>
<line x1="59.7" y1="171.9" x2="58.8" y2="172.4" stroke="rgb(213,13,8)" stroke-width="1.2" opacity="0.66"/>
<line x1="76.7" y1="162.8" x2="75.1" y2="164.0" stroke="rgb(218,13,12)" stroke-width="1.2" opacity="0.46"/>
<line x1="44.2" y1="136.8" x2="44.5" y2="137.7" stroke="rgb(234,16,30)" stroke-width="1" opacity="0.73"/>
<line x1="46.7" y1="134.3" x2="47.6" y2="134.7" stroke="rgb(207,17,15)" stroke-width="1.2" opacity="0.79"/>
<line x1="65.0" y1="144.5" x2="65.5" y2="145.9" stroke="rgb(154,18,20)" stroke-width="0.8" opacity="0.70"/>
<line x1="73.4" y1="158.4" x2="74.4" y2="158.5" stroke="rgb(195,11,29)" stroke-width="0.8" opacity="0.90"/>
<line x1="74.4" y1="162.7" x2="75.2" y2="163.3" stroke="rgb(185,17,27)" stroke-width="1.2" opacity="0.65"/>
<line x1="43.6" y1="139.6" x2="43.2" y2="141.1" stroke="rgb(188,9,26)" stroke-width="1.2" opacity="0.41"/>
<line x1="39.6" y1="143.2" x2="41.5" y2="143.5" stroke="rgb(192,19,22)" stroke-width="1" opacity="0.49"/>
<line x1="74.0" y1="142.2" x2="72.4" y2="143.3" stroke="rgb(242,25,22)" stroke-width="0.8" opacity="0.76"/>
<line x1="44.8" y1="141.0" x2="45.7" y2="141.1" stroke="rgb(215,26,11)" stroke-width="1" opacity="0.71"/>
<line x1="45.6" y1="167.9" x2="44.3" y2="169.4" stroke="rgb(243,13,19)" stroke-width="0.8" opacity="0.71"/>
<line x1="43.7" y1="130.9" x2="45.1" y2="133.0" stroke="rgb(183,11,11)" stroke-width="0.8" opacity="0.41"/>
<line x1="47.1" y1="165.2" x2="45.2" y2="165.5" stroke="rgb(186,20,25)" stroke-width="0.8" opacity="0.89"/>
<line x1="43.9" y1="137.4" x2="46.3" y2="139.3" stroke="rgb(245,15,10)" stroke-width="0.8" opacity="0.43"/>
<line x1="51.8" y1="132.6" x2="54.6" y2="133.6" stroke="rgb(222,11,10)" stroke-width="1.2" opacity="0.67"/>
<line x1="50.4" y1="169.1" x2="49.5" y2="169.6" stroke="rgb(159,27,18)" stroke-width="0.8" opacity="0.37"/>
<line x1="68.2" y1="175.3" x2="70.2" y2="175.8" stroke="rgb(247,22,26)" stroke-width="0.8" opacity="0.36"/>
<line x1="50.9" y1="178.0" x2="49.7" y2="178.9" stroke="rgb(248,12,14)" stroke-width="0.8" opacity="0.86"/>
<line x1="42.7" y1="169.6" x2="41.8" y2="170.1" stroke="rgb(250,21,10)" stroke-width="1.2" opacity="0.74"/>
<line x1="55.7" y1="141.1" x2="58.0" y2="142.1" stroke="rgb(238,17,9)" stroke-width="1.2" opacity="0.61"/>
<line x1="69.2" y1="191.2" x2="69.0" y2="194.2" stroke="rgb(230,11,10)" stroke-width="1" opacity="0.76"/>
<line x1="78.9" y1="146.1" x2="78.3" y2="148.5" stroke="rgb(237,30,9)" stroke-width="1" opacity="0.71"/>
<line x1="57.9" y1="171.1" x2="56.2" y2="172.1" stroke="rgb(201,10,15)" stroke-width="1.2" opacity="0.72"/>
<line x1="76.3" y1="173.4" x2="74.3" y2="175.0" stroke="rgb(150,17,23)" stroke-width="1.2" opacity="0.36"/>
<line x1="44.6" y1="183.1" x2="46.4" y2="185.5" stroke="rgb(168,18,25)" stroke-width="0.8" opacity="0.40"/>
<line x1="85.6" y1="142.7" x2="84.4" y2="144.9" stroke="rgb(253,15,11)" stroke-width="0.8" opacity="0.73"/>
<line x1="41.4" y1="183.8" x2="42.4" y2="185.5" stroke="rgb(169,19,13)" stroke-width="0.8" opacity="0.54"/>
<line x1="77.4" y1="187.6" x2="77.4" y2="189.6" stroke="rgb(214,27,14)" stroke-width="0.8" opacity="0.57"/>
<line x1="39.9" y1="185.7" x2="40.1" y2="187.2" stroke="rgb(253,29,16)" stroke-width="1.2" opacity="0.54"/>
<line x1="44.2" y1="166.3" x2="42.7" y2="168.9" stroke="rgb(167,16,29)" stroke-width="1" opacity="0.39"/>
<line x1="68.5" y1="159.3" x2="69.7" y2="160.9" stroke="rgb(240,28,29)" stroke-width="1" opacity="0.87"/>
<line x1="77.1" y1="134.5" x2="78.1" y2="136.7" stroke="rgb(152,9,29)" stroke-width="0.8" opacity="0.66"/>
<line x1="60.3" y1="179.1" x2="58.2" y2="181.2" stroke="rgb(154,18,23)" stroke-width="0.8" opacity="0.35"/>
<line x1="83.1" y1="148.1" x2="86.0" y2="148.6" stroke="rgb(200,13,26)" stroke-width="1.2" opacity="0.89"/>
<line x1="68.7" y1="146.2" x2="68.9" y2="147.2" stroke="rgb(202,28,10)" stroke-width="1.2" opacity="0.70"/>
<line x1="62.4" y1="193.6" x2="64.2" y2="194.5" stroke="rgb(223,23,9)" stroke-width="1.2" opacity="0.54"/>
<line x1="46.0" y1="163.9" x2="46.9" y2="165.2" stroke="rgb(216,13,29)" stroke-width="1" opacity="0.85"/>
<line x1="66.8" y1="193.4" x2="64.8" y2="193.6" stroke="rgb(173,16,17)" stroke-width="1" opacity="0.46"/>
<line x1="57.8" y1="155.5" x2="59.7" y2="156.2" stroke="rgb(229,22,24)" stroke-width="1" opacity="0.70"/>
<line x1="75.7" y1="150.9" x2="74.5" y2="153.1" stroke="rgb(235,21,10)" stroke-width="1" opacity="0.57"/>
<line x1="72.9" y1="156.2" x2="73.5" y2="156.9" stroke="rgb(248,8,9)" stroke-width="1.2" opacity="0.80"/>
<line x1="65.8" y1="153.4" x2="63.8" y2="153.6" stroke="rgb(158,25,11)" stroke-width="1.2" opacity="0.72"/>
<line x1="69.5" y1="193.1" x2="68.7" y2="193.7" stroke="rgb(200,18,20)" stroke-width="1" opacity="0.62"/>
<line x1="55.2" y1="186.5" x2="55.0" y2="188.0" stroke="rgb(216,21,29)" stroke-width="1" opacity="0.42"/>
<line x1="55.3" y1="134.9" x2="58.3" y2="134.9" stroke="rgb(223,29,15)" stroke-width="1.2" opacity="0.59"/>
<line x1="49.4" y1="177.7" x2="50.8" y2="178.4" stroke="rgb(235,15,24)" stroke-width="0.8" opacity="0.84"/>
<line x1="81.3" y1="178.6" x2="79.0" y2="179.5" stroke="rgb(166,28,30)" stroke-width="1.2" opacity="0.56"/>
<line x1="81.2" y1="176.6" x2="78.6" y2="178.2" stroke="rgb(184,27,14)" stroke-width="0.8" opacity="0.52"/>
<line x1="56.2" y1="167.4" x2="56.7" y2="168.3" stroke="rgb(239,24,10)" stroke-width="0.8" opacity="0.81"/>
<line x1="54.6" y1="130.8" x2="54.9" y2="132.3" stroke="rgb(214,9,22)" stroke-width="1.2" opacity="0.66"/>
<line x1="77.0" y1="133.2" x2="77.1" y2="134.2" stroke="rgb(187,28,18)" stroke-width="1" opacity="0.64"/>
<line x1="50.2" y1="166.6" x2="48.5" y2="167.5" stroke="rgb(253,26,25)" stroke-width="1.2" opacity="0.37"/>
<line x1="42.4" y1="171.3" x2="45.2" y2="172.3" stroke="rgb(199,24,26)" stroke-width="1" opacity="0.47"/>
<line x1="79.8" y1="194.9" x2="81.4" y2="197.5" stroke="rgb(182,10,28)" stroke-width="1" opacity="0.67"/>
<line x1="59.6" y1="193.2" x2="60.0" y2="196.2" stroke="rgb(193,27,14)" stroke-width="0.8" opacity="0.57"/>
<line x1="52.6" y1="143.1" x2="55.6" y2="143.3" stroke="rgb(249,14,30)" stroke-width="1.2" opacity="0.46"/>
<line x1="51.9" y1="166.8" x2="50.4" y2="168.2" stroke="rgb(152,27,8)" stroke-width="0.8" opacity="0.54"/>
<line x1="58.9" y1="184.6" x2="61.0" y2="186.8" stroke="rgb(195,28,13)" stroke-width="1.2" opacity="0.70"/>
<line x1="56.0" y1="188.7" x2="54.1" y2="190.3" stroke="rgb(193,11,12)" stroke-width="1" opacity="0.78"/>
<line x1="61.4" y1="194.6" x2="61.6" y2="196.6" stroke="rgb(255,12,11)" stroke-width="1.2" opacity="0.66"/>
<line x1="81.8" y1="176.5" x2="82.4" y2="179.4" stroke="rgb(243,20,13)" stroke-width="1" opacity="0.42"/>
<line x1="40.1" y1="144.4" x2="42.6" y2="144.6" stroke="rgb(254,10,22)" stroke-width="0.8" opacity="0.46"/>
<line x1="66.1" y1="189.6" x2="65.4" y2="191.5" stroke="rgb(209,23,28)" stroke-width="0.8" opacity="0.35"/>
<line x1="49.0" y1="153.5" x2="48.7" y2="154.5" stroke="rgb(166,14,22)" stroke-width="1" opacity="0.66"/>
<line x1="82.3" y1="174.9" x2="82.1" y2="175.9" stroke="rgb(242,9,23)" stroke-width="0.8" opacity="0.57"/>
<line x1="70.8" y1="176.7" x2="70.0" y2="179.1" stroke="rgb(165,23,27)" stroke-width="1" opacity="0.38"/>
<line x1="50.6" y1="194.4" x2="50.1" y2="196.8" stroke="rgb(245,15,28)" stroke-width="1.2" opacity="0.76"/>
<line x1="41.3" y1="136.7" x2="42.3" y2="136.8" stroke="rgb(156,20,15)" stroke-width="0.8" opacity="0.78"/>
<line x1="41.6" y1="166.5" x2="43.3" y2="168.4" stroke="rgb(169,22,8)" stroke-width="1" opacity="0.77"/>
<line x1="44.3" y1="193.5" x2="45.7" y2="194.1" stroke="rgb(217,13,27)" stroke-width="1.2" opacity="0.53"/>
<line x1="63.2" y1="192.4" x2="62.3" y2="192.9" stroke="rgb(221,28,10)" stroke-width="1.2" opacity="0.66"/>
<line x1="68.0" y1="181.8" x2="67.5" y2="182.6" stroke="rgb(228,17,22)" stroke-width="1" opacity="0.72"/>
<line x1="65.5" y1="144.1" x2="67.5" y2="145.6" stroke="rgb(240,28,14)" stroke-width="1.2" opacity="0.59"/>
<line x1="44.6" y1="193.7" x2="43.6" y2="195.4" stroke="rgb(161,15,11)" stroke-width="0.8" opacity="0.55"/>
<line x1="53.6" y1="179.9" x2="52.1" y2="181.2" stroke="rgb(150,10,10)" stroke-width="0.8" opacity="0.41"/>
<line x1="58.4" y1="170.1" x2="57.5" y2="170.3" stroke="rgb(157,30,8)" stroke-width="1.2" opacity="0.72"/>
<line x1="79.0" y1="158.4" x2="78.5" y2="159.8" stroke="rgb(187,22,16)" stroke-width="1.2" opacity="0.42"/>
<line x1="47.0" y1="141.1" x2="45.2" y2="142.8" stroke="rgb(246,18,16)" stroke-width="0.8" opacity="0.36"/>
<line x1="64.5" y1="152.6" x2="62.6" y2="153.1" stroke="rgb(192,8,15)" stroke-width="1" opacity="0.79"/>
<line x1="64.2" y1="137.4" x2="64.7" y2="139.3" stroke="rgb(193,19,10)" stroke-width="1.2" opacity="0.42"/>
<line x1="60.8" y1="144.3" x2="59.3" y2="144.6" stroke="rgb(202,24,30)" stroke-width="1.2" opacity="0.40"/>
<line x1="49.4" y1="149.2" x2="48.8" y2="149.9" stroke="rgb(205,30,11)" stroke-width="0.8" opacity="0.69"/>
<line x1="68.1" y1="141.4" x2="66.6" y2="142.8" stroke="rgb(181,18,16)" stroke-width="0.8" opacity="0.40"/>
<line x1="79.8" y1="172.0" x2="82.5" y2="173.3" stroke="rgb(158,27,10)" stroke-width="1.2" opacity="0.57"/>
<line x1="43.1" y1="177.7" x2="43.5" y2="178.6" stroke="rgb(168,25,11)" stroke-width="1.2" opacity="0.62"/>
<line x1="84.6" y1="175.0" x2="83.2" y2="175.5" stroke="rgb(182,17,20)" stroke-width="1" opacity="0.73"/>
<line x1="47.6" y1="194.5" x2="48.7" y2="196.7" stroke="rgb(176,8,20)" stroke-width="0.8" opacity="0.41"/>
<line x1="49.2" y1="153.3" x2="52.2" y2="153.4" stroke="rgb(174,10,10)" stroke-width="0.8" opacity="0.78"/>
<line x1="52.0" y1="190.7" x2="52.8" y2="192.5" stroke="rgb(242,13,12)" stroke-width="1" opacity="0.78"/>
<line x1="51.2" y1="154.3" x2="50.3" y2="154.6" stroke="rgb(251,13,17)" stroke-width="1" opacity="0.86"/>
<line x1="40.9" y1="172.5" x2="38.7" y2="173.6" stroke="rgb(180,28,23)" stroke-width="1" opacity="0.83"/>
<line x1="41.9" y1="173.5" x2="42.8" y2="174.6" stroke="rgb(210,22,23)" stroke-width="0.8" opacity="0.41"/>
<line x1="48.4" y1="147.8" x2="46.9" y2="148.1" stroke="rgb(221,9,10)" stroke-width="1.2" opacity="0.47"/>
<line x1="74.1" y1="167.0" x2="76.5" y2="167.8" stroke="rgb(205,24,9)" stroke-width="0.8" opacity="0.64"/>
<line x1="61.3" y1="191.7" x2="62.7" y2="192.1" stroke="rgb(207,28,18)" stroke-width="0.8" opacity="0.46"/>
<line x1="70.3" y1="153.9" x2="72.1" y2="155.7" stroke="rgb(215,8,28)" stroke-width="1.2" opacity="0.80"/>
<line x1="69.7" y1="180.5" x2="69.0" y2="181.8" stroke="rgb(168,20,18)" stroke-width="1.2" opacity="0.37"/>
<line x1="79.4" y1="173.0" x2="79.1" y2="174.0" stroke="rgb(242,10,22)" stroke-width="0.8" opacity="0.82"/>
<line x1="52.8" y1="193.6" x2="51.4" y2="195.0" stroke="rgb(224,14,10)" stroke-width="1" opacity="0.36"/>
<line x1="47.2" y1="153.9" x2="47.3" y2="154.8" stroke="rgb(215,23,29)" stroke-width="0.8" opacity="0.69"/>
<line x1="49.6" y1="184.5" x2="51.2" y2="186.4" stroke="rgb(246,18,9)" stroke-width="1" opacity="0.45"/>
<line x1="58.7" y1="176.4" x2="59.8" y2="177.4" stroke="rgb(150,12,27)" stroke-width="1" opacity="0.68"/>
<line x1="61.6" y1="166.0" x2="63.0" y2="167.4" stroke="rgb(165,16,21)" stroke-width="0.8" opacity="0.85"/>
<line x1="85.9" y1="139.3" x2="87.0" y2="140.3" stroke="rgb(171,10,26)" stroke-width="1" opacity="0.78"/>
<line x1="51.3" y1="167.4" x2="49.8" y2="167.6" stroke="rgb(184,30,21)" stroke-width="0.8" opacity="0.38"/>
<line x1="52.9" y1="193.1" x2="55.4" y2="193.6" stroke="rgb(198,17,29)" stroke-width="1.2" opacity="0.74"/>
<line x1="66.6" y1="159.4" x2="65.8" y2="162.3" stroke="rgb(252,19,24)" stroke-width="1.2" opacity="0.46"/>
<line x1="43.0" y1="188.6" x2="41.7" y2="189.2" stroke="rgb(182,28,15)" stroke-width="1" opacity="0.55"/>
<line x1="63.9" y1="174.4" x2="62.2" y2="176.9" stroke="rgb(177,29,18)" stroke-width="0.8" opacity="0.59"/>
<line x1="55.3" y1="179.7" x2="55.5" y2="181.2" stroke="rgb(191,15,21)" stroke-width="0.8" opacity="0.88"/>
<line x1="49.1" y1="157.0" x2="49.7" y2="158.4" stroke="rgb(240,19,20)" stroke-width="1.2" opacity="0.62"/>
<line x1="56.5" y1="195.0" x2="58.3" y2="195.7" stroke="rgb(215,12,20)" stroke-width="1.2" opacity="0.58"/>
<line x1="43.1" y1="168.2" x2="42.7" y2="171.2" stroke="rgb(194,30,21)" stroke-width="1" opacity="0.45"/>
<line x1="61.9" y1="131.7" x2="62.4" y2="133.2" stroke="rgb(164,28,17)" stroke-width="1.2" opacity="0.70"/>
<line x1="69.0" y1="176.1" x2="69.6" y2="177.5" stroke="rgb(188,28,16)" stroke-width="0.8" opacity="0.80"/>
<line x1="67.5" y1="185.5" x2="70.4" y2="185.9" stroke="rgb(151,27,25)" stroke-width="1" opacity="0.75"/>
<line x1="63.8" y1="151.3" x2="61.5" y2="152.2" stroke="rgb(192,9,10)" stroke-width="1" opacity="0.44"/>
<line x1="43.7" y1="170.9" x2="45.6" y2="171.7" stroke="rgb(243,18,18)" stroke-width="1.2" opacity="0.62"/>
<line x1="48.3" y1="190.6" x2="47.6" y2="191.3" stroke="rgb(238,21,20)" stroke-width="1" opacity="0.74"/>
<line x1="50.2" y1="182.1" x2="51.1" y2="182.3" stroke="rgb(169,14,30)" stroke-width="1" opacity="0.79"/>
<line x1="76.3" y1="145.5" x2="76.9" y2="148.5" stroke="rgb(151,14,26)" stroke-width="0.8" opacity="0.41"/>
<line x1="64.3" y1="177.4" x2="64.2" y2="178.9" stroke="rgb(177,28,30)" stroke-width="1.2" opacity="0.60"/>
<line x1="48.4" y1="142.5" x2="50.3" y2="143.3" stroke="rgb(157,15,22)" stroke-width="1" opacity="0.80"/>
<line x1="72.8" y1="192.5" x2="73.4" y2="194.4" stroke="rgb(216,17,9)" stroke-width="1.2" opacity="0.52"/>
<line x1="53.1" y1="151.6" x2="51.7" y2="151.9" stroke="rgb(181,22,8)" stroke-width="0.8" opacity="0.53"/>
<line x1="76.0" y1="177.0" x2="75.8" y2="179.5" stroke="rgb(249,10,11)" stroke-width="1.2" opacity="0.39"/>
<line x1="57.5" y1="161.8" x2="57.7" y2="163.3" stroke="rgb(211,30,21)" stroke-width="1.2" opacity="0.55"/>
<line x1="60.3" y1="190.5" x2="63.2" y2="191.0" stroke="rgb(248,22,10)" stroke-width="1.2" opacity="0.86"/>
<line x1="45.7" y1="186.0" x2="48.4" y2="187.2" stroke="rgb(209,29,27)" stroke-width="0.8" opacity="0.51"/>
<line x1="42.7" y1="179.1" x2="42.5" y2="181.6" stroke="rgb(168,20,30)" stroke-width="0.8" opacity="0.74"/>
<line x1="73.7" y1="132.7" x2="73.6" y2="134.2" stroke="rgb(239,10,18)" stroke-width="0.8" opacity="0.80"/>
<line x1="77.0" y1="176.3" x2="74.5" y2="176.6" stroke="rgb(164,10,16)" stroke-width="1.2" opacity="0.87"/>
<line x1="76.1" y1="179.0" x2="78.5" y2="179.8" stroke="rgb(254,24,18)" stroke-width="0.8" opacity="0.37"/>
<line x1="63.3" y1="183.2" x2="64.9" y2="185.7" stroke="rgb(172,18,29)" stroke-width="0.8" opacity="0.71"/>
<line x1="42.1" y1="130.6" x2="44.1" y2="130.7" stroke="rgb(247,16,27)" stroke-width="0.8" opacity="0.84"/>
<line x1="83.8" y1="151.7" x2="81.8" y2="152.0" stroke="rgb(188,19,27)" stroke-width="1" opacity="0.57"/>
<line x1="52.7" y1="191.5" x2="50.5" y2="193.6" stroke="rgb(181,28,9)" stroke-width="1.2" opacity="0.44"/>
<line x1="46.5" y1="150.4" x2="47.2" y2="152.3" stroke="rgb(189,12,15)" stroke-width="1.2" opacity="0.74"/>
<line x1="70.7" y1="134.1" x2="69.4" y2="134.8" stroke="rgb(249,12,29)" stroke-width="1.2" opacity="0.71"/>
<line x1="41.7" y1="186.8" x2="39.3" y2="187.2" stroke="rgb(210,22,14)" stroke-width="1.2" opacity="0.54"/>
<line x1="51.1" y1="137.1" x2="50.1" y2="137.4" stroke="rgb(153,15,19)" stroke-width="0.8" opacity="0.69"/>
<line x1="62.7" y1="134.0" x2="64.0" y2="136.1" stroke="rgb(211,20,17)" stroke-width="1.2" opacity="0.70"/>
<line x1="81.1" y1="161.0" x2="79.7" y2="162.5" stroke="rgb(195,26,11)" stroke-width="1.2" opacity="0.67"/>
<line x1="56.4" y1="192.5" x2="55.9" y2="193.4" stroke="rgb(222,9,22)" stroke-width="1.2" opacity="0.66"/>
<line x1="40.6" y1="139.1" x2="40.5" y2="140.6" stroke="rgb(255,24,19)" stroke-width="0.8" opacity="0.47"/>
<line x1="74.1" y1="182.4" x2="76.3" y2="183.6" stroke="rgb(231,30,10)" stroke-width="1" opacity="0.46"/>
<line x1="53.5" y1="151.9" x2="53.6" y2="153.4" stroke="rgb(246,24,8)" stroke-width="1.2" opacity="0.83"/>
<line x1="67.6" y1="155.0" x2="68.9" y2="155.8" stroke="rgb(233,25,11)" stroke-width="1.2" opacity="0.55"/>
<line x1="82.5" y1="144.0" x2="82.4" y2="145.5" stroke="rgb(169,25,14)" stroke-width="0.8" opacity="0.43"/>
<line x1="59.9" y1="132.6" x2="61.8" y2="134.9" stroke="rgb(203,14,24)" stroke-width="1.2" opacity="0.61"/>
<line x1="43.8" y1="131.0" x2="42.7" y2="132.0" stroke="rgb(180,25,16)" stroke-width="0.8" opacity="0.63"/>
<line x1="47.7" y1="169.5" x2="46.2" y2="169.7" stroke="rgb(242,11,22)" stroke-width="1.2" opacity="0.68"/>
<line x1="49.5" y1="184.6" x2="52.5" y2="185.1" stroke="rgb(150,22,10)" stroke-width="0.8" opacity="0.84"/>
<line x1="49.6" y1="165.7" x2="48.1" y2="165.7" stroke="rgb(179,13,21)" stroke-width="1" opacity="0.69"/>
<line x1="48.5" y1="151.0" x2="48.9" y2="152.5" stroke="rgb(206,26,23)" stroke-width="1" opacity="0.87"/>
<line x1="61.4" y1="143.4" x2="61.4" y2="144.9" stroke="rgb(179,10,19)" stroke-width="1.2" opacity="0.56"/>
<line x1="42.7" y1="137.1" x2="43.6" y2="138.9" stroke="rgb(238,20,28)" stroke-width="0.8" opacity="0.61"/>
<line x1="78.3" y1="166.0" x2="79.4" y2="168.2" stroke="rgb(230,30,29)" stroke-width="1" opacity="0.87"/>
<line x1="68.3" y1="140.7" x2="67.3" y2="140.9" stroke="rgb(168,28,19)" stroke-width="1.2" opacity="0.82"/>
<line x1="76.3" y1="168.7" x2="74.7" y2="169.9" stroke="rgb(170,25,25)" stroke-width="1" opacity="0.71"/>
<line x1="52.8" y1="139.4" x2="52.4" y2="140.3" stroke="rgb(253,23,22)" stroke-width="1" opacity="0.50"/>
<line x1="63.7" y1="131.9" x2="62.9" y2="133.7" stroke="rgb(211,11,18)" stroke-width="1" opacity="0.56"/>
<line x1="57.5" y1="154.0" x2="60.5" y2="154.2" stroke="rgb(192,17,23)" stroke-width="0.8" opacity="0.87"/>
<line x1="57.0" y1="135.5" x2="58.4" y2="136.2" stroke="rgb(179,15,9)" stroke-width="1" opacity="0.50"/>
<line x1="73.6" y1="177.1" x2="73.4" y2="178.6" stroke="rgb(161,12,21)" stroke-width="0.8" opacity="0.37"/>
<line x1="62.6" y1="177.8" x2="62.2" y2="179.2" stroke="rgb(188,9,10)" stroke-width="0.8" opacity="0.44"/>
<line x1="41.3" y1="151.8" x2="42.7" y2="152.3" stroke="rgb(170,11,13)" stroke-width="0.8" opacity="0.69"/>
<line x1="70.8" y1="193.2" x2="72.1" y2="195.4" stroke="rgb(202,16,22)" stroke-width="0.8" opacity="0.62"/>
<line x1="40.6" y1="174.1" x2="41.9" y2="174.9" stroke="rgb(169,19,28)" stroke-width="1.2" opacity="0.71"/>
<line x1="60.2" y1="170.8" x2="59.8" y2="173.3" stroke="rgb(223,8,22)" stroke-width="1" opacity="0.83"/>
<line x1="67.4" y1="152.4" x2="66.5" y2="152.6" stroke="rgb(221,24,12)" stroke-width="1" opacity="0.45"/>
<line x1="57.3" y1="175.2" x2="54.4" y2="175.8" stroke="rgb(252,19,21)" stroke-width="1.2" opacity="0.72"/>
<line x1="66.0" y1="177.7" x2="63.1" y2="178.3" stroke="rgb(228,13,18)" stroke-width="1" opacity="0.45"/>
<line x1="85.7" y1="144.2" x2="84.7" y2="144.3" stroke="rgb(238,18,18)" stroke-width="1.2" opacity="0.77"/>
<line x1="51.7" y1="170.1" x2="49.2" y2="170.4" stroke="rgb(160,23,9)" stroke-width="0.8" opacity="0.59"/>
<line x1="43.3" y1="157.4" x2="44.0" y2="160.3" stroke="rgb(150,10,26)" stroke-width="0.8" opacity="0.41"/>
<line x1="52.4" y1="137.9" x2="50.0" y2="138.8" stroke="rgb(253,16,10)" stroke-width="1.2" opacity="0.60"/>
<line x1="56.6" y1="132.9" x2="58.2" y2="134.2" stroke="rgb(233,16,16)" stroke-width="1" opacity="0.46"/>
<line x1="63.1" y1="163.0" x2="61.4" y2="165.4" stroke="rgb(232,16,22)" stroke-width="1.2" opacity="0.82"/>
<line x1="58.2" y1="192.0" x2="59.1" y2="192.1" stroke="rgb(168,29,17)" stroke-width="0.8" opacity="0.68"/>
<line x1="79.7" y1="178.2" x2="78.9" y2="180.0" stroke="rgb(198,15,16)" stroke-width="1.2" opacity="0.37"/>
<line x1="61.7" y1="136.2" x2="62.5" y2="136.8" stroke="rgb(226,23,30)" stroke-width="0.8" opacity="0.75"/>
<line x1="77.4" y1="138.4" x2="79.1" y2="139.3" stroke="rgb(178,23,15)" stroke-width="1" opacity="0.49"/>
<line x1="42.3" y1="141.0" x2="40.3" y2="141.2" stroke="rgb(248,10,28)" stroke-width="1" opacity="0.64"/>
<line x1="79.2" y1="159.3" x2="78.2" y2="160.9" stroke="rgb(245,20,15)" stroke-width="1.2" opacity="0.60"/>
<line x1="77.8" y1="192.7" x2="77.7" y2="194.2" stroke="rgb(165,25,18)" stroke-width="1" opacity="0.84"/>
<line x1="82.0" y1="188.7" x2="83.3" y2="191.4" stroke="rgb(220,23,26)" stroke-width="1" opacity="0.44"/>
<line x1="80.7" y1="154.4" x2="80.7" y2="155.9" stroke="rgb(186,18,20)" stroke-width="1.2" opacity="0.65"/>
<line x1="52.7" y1="171.3" x2="52.8" y2="173.3" stroke="rgb(231,14,25)" stroke-width="1.2" opacity="0.72"/>
<line x1="56.3" y1="169.7" x2="55.3" y2="170.9" stroke="rgb(225,10,21)" stroke-width="0.8" opacity="0.47"/>
<line x1="42.8" y1="163.9" x2="42.0" y2="165.2" stroke="rgb(237,17,11)" stroke-width="0.8" opacity="0.72"/>
<line x1="58.8" y1="188.9" x2="60.3" y2="189.0" stroke="rgb(175,13,15)" stroke-width="0.8" opacity="0.47"/>
<line x1="45.2" y1="168.4" x2="44.1" y2="170.1" stroke="rgb(199,20,30)" stroke-width="0.8" opacity="0.39"/>
<line x1="78.1" y1="194.0" x2="78.0" y2="196.0" stroke="rgb(204,19,29)" stroke-width="0.8" opacity="0.87"/>
<line x1="85.7" y1="194.8" x2="86.3" y2="196.2" stroke="rgb(196,25,12)" stroke-width="1" opacity="0.86"/>
<line x1="44.6" y1="182.1" x2="44.6" y2="184.1" stroke="rgb(223,11,25)" stroke-width="1" opacity="0.58"/>
<line x1="50.5" y1="179.5" x2="52.0" y2="180.9" stroke="rgb(161,23,26)" stroke-width="1" opacity="0.59"/>
<line x1="61.7" y1="133.3" x2="61.8" y2="134.3" stroke="rgb(214,15,9)" stroke-width="1.2" opacity="0.86"/>
<line x1="48.7" y1="147.4" x2="49.2" y2="148.3" stroke="rgb(160,21,17)" stroke-width="0.8" opacity="0.63"/>
<line x1="54.6" y1="189.4" x2="52.1" y2="189.9" stroke="rgb(225,9,23)" stroke-width="0.8" opacity="0.89"/>
<line x1="73.7" y1="178.5" x2="74.3" y2="179.3" stroke="rgb(155,18,9)" stroke-width="0.8" opacity="0.64"/>
<line x1="49.2" y1="147.3" x2="47.8" y2="147.8" stroke="rgb(150,30,15)" stroke-width="1.2" opacity="0.57"/>
<line x1="48.7" y1="136.3" x2="49.7" y2="138.0" stroke="rgb(184,29,29)" stroke-width="1" opacity="0.47"/>
<line x1="58.1" y1="175.1" x2="59.6" y2="175.5" stroke="rgb(157,25,14)" stroke-width="1" opacity="0.86"/>
<line x1="44.1" y1="163.0" x2="45.6" y2="163.5" stroke="rgb(213,26,22)" stroke-width="1" opacity="0.38"/>
<line x1="85.3" y1="177.1" x2="86.2" y2="177.4" stroke="rgb(191,15,9)" stroke-width="0.8" opacity="0.67"/>
<line x1="73.1" y1="153.1" x2="73.7" y2="155.0" stroke="rgb(255,16,13)" stroke-width="1" opacity="0.59"/>
<line x1="39.7" y1="136.5" x2="39.0" y2="137.9" stroke="rgb(169,29,16)" stroke-width="1.2" opacity="0.41"/>
<line x1="80.1" y1="136.0" x2="77.4" y2="137.3" stroke="rgb(225,22,28)" stroke-width="1.2" opacity="0.64"/>
<line x1="54.0" y1="143.8" x2="54.5" y2="145.2" stroke="rgb(215,25,26)" stroke-width="0.8" opacity="0.69"/>
<line x1="72.3" y1="186.9" x2="72.9" y2="188.8" stroke="rgb(240,9,16)" stroke-width="1" opacity="0.53"/>
<line x1="71.2" y1="177.7" x2="71.5" y2="179.7" stroke="rgb(161,19,28)" stroke-width="0.8" opacity="0.80"/>
<line x1="56.5" y1="131.7" x2="57.4" y2="133.5" stroke="rgb(154,21,27)" stroke-width="1.2" opacity="0.84"/>
<line x1="79.9" y1="150.3" x2="80.9" y2="152.1" stroke="rgb(163,13,23)" stroke-width="0.8" opacity="0.55"/>
<line x1="52.0" y1="162.1" x2="50.3" y2="163.0" stroke="rgb(206,17,21)" stroke-width="0.8" opacity="0.52"/>
<line x1="82.4" y1="185.7" x2="82.6" y2="186.7" stroke="rgb(174,12,19)" stroke-width="1.2" opacity="0.42"/>
<line x1="81.5" y1="159.0" x2="79.5" y2="159.1" stroke="rgb(200,20,13)" stroke-width="1" opacity="0.78"/>
<line x1="41.1" y1="176.9" x2="39.6" y2="179.4" stroke="rgb(228,15,17)" stroke-width="0.8" opacity="0.46"/>
<line x1="79.3" y1="189.3" x2="76.5" y2="190.4" stroke="rgb(165,9,26)" stroke-width="1" opacity="0.63"/>
<line x1="60.0" y1="194.8" x2="59.0" y2="195.1" stroke="rgb(164,18,20)" stroke-width="0.8" opacity="0.71"/>
<line x1="59.1" y1="152.1" x2="56.7" y2="153.9" stroke="rgb(253,17,16)" stroke-width="1" opacity="0.78"/>
<line x1="50.1" y1="171.0" x2="49.7" y2="173.4" stroke="rgb(199,13,11)" stroke-width="1" opacity="0.77"/>
<line x1="74.3" y1="191.2" x2="74.5" y2="193.2" stroke="rgb(177,30,8)" stroke-width="0.8" opacity="0.40"/>
<line x1="43.7" y1="154.4" x2="44.1" y2="157.4" stroke="rgb(239,19,24)" stroke-width="1" opacity="0.89"/>
<line x1="47.4" y1="163.6" x2="48.6" y2="165.2" stroke="rgb(219,14,15)" stroke-width="1" opacity="0.55"/>
<line x1="55.1" y1="170.3" x2="53.6" y2="171.7" stroke="rgb(229,30,19)" stroke-width="0.8" opacity="0.55"/>
<line x1="85.3" y1="172.1" x2="85.8" y2="172.9" stroke="rgb(203,8,19)" stroke-width="0.8" opacity="0.57"/>
<line x1="47.0" y1="173.4" x2="48.1" y2="175.7" stroke="rgb(183,15,13)" stroke-width="1.2" opacity="0.60"/>
<line x1="78.2" y1="154.8" x2="78.6" y2="155.7" stroke="rgb(191,29,20)" stroke-width="1.2" opacity="0.37"/>
<line x1="64.9" y1="182.3" x2="64.4" y2="183.2" stroke="rgb(238,13,16)" stroke-width="1.2" opacity="0.63"/>
<line x1="72.1" y1="180.4" x2="73.4" y2="182.0" stroke="rgb(218,12,30)" stroke-width="1" opacity="0.75"/>
<line x1="44.7" y1="148.3" x2="44.5" y2="149.8" stroke="rgb(228,26,15)" stroke-width="1.2" opacity="0.59"/>
<line x1="78.1" y1="167.2" x2="78.1" y2="169.2" stroke="rgb(220,13,9)" stroke-width="1.2" opacity="0.86"/>
<line x1="43.3" y1="171.0" x2="41.3" y2="173.2" stroke="rgb(184,10,13)" stroke-width="1.2" opacity="0.36"/>
<line x1="68.3" y1="145.4" x2="68.0" y2="147.9" stroke="rgb(173,14,18)" stroke-width="1.2" opacity="0.54"/>
<line x1="40.7" y1="152.3" x2="41.7" y2="152.4" stroke="rgb(242,11,9)" stroke-width="0.8" opacity="0.74"/>
<line x1="70.7" y1="150.0" x2="69.8" y2="150.4" stroke="rgb(206,27,16)" stroke-width="1.2" opacity="0.86"/>
<line x1="82.5" y1="166.3" x2="83.1" y2="167.7" stroke="rgb(219,22,20)" stroke-width="1" opacity="0.81"/>
<line x1="83.2" y1="144.8" x2="85.3" y2="146.9" stroke="rgb(238,17,20)" stroke-width="0.8" opacity="0.47"/>
<line x1="49.6" y1="192.2" x2="51.0" y2="194.9" stroke="rgb(212,8,27)" stroke-width="1.2" opacity="0.79"/>
<line x1="81.9" y1="190.9" x2="79.5" y2="191.5" stroke="rgb(210,24,14)" stroke-width="0.8" opacity="0.71"/>
<line x1="51.1" y1="167.5" x2="52.4" y2="169.0" stroke="rgb(231,11,23)" stroke-width="1" opacity="0.56"/>
<line x1="76.6" y1="147.0" x2="76.1" y2="150.0" stroke="rgb(222,28,12)" stroke-width="1.2" opacity="0.78"/>
<line x1="53.1" y1="186.3" x2="51.0" y2="187.7" stroke="rgb(205,29,30)" stroke-width="1" opacity="0.45"/>
<line x1="44.2" y1="157.2" x2="45.0" y2="158.5" stroke="rgb(232,21,20)" stroke-width="1" opacity="0.43"/>
<line x1="48.0" y1="167.9" x2="47.3" y2="170.3" stroke="rgb(174,22,28)" stroke-width="1.2" opacity="0.62"/>
<line x1="44.1" y1="193.9" x2="46.6" y2="194.2" stroke="rgb(248,28,26)" stroke-width="0.8" opacity="0.65"/>
<line x1="49.6" y1="181.1" x2="51.9" y2="183.0" stroke="rgb(223,13,28)" stroke-width="1" opacity="0.55"/>
<line x1="61.8" y1="134.8" x2="63.6" y2="135.7" stroke="rgb(220,11,9)" stroke-width="1.2" opacity="0.83"/>
<line x1="41.8" y1="146.6" x2="40.1" y2="147.6" stroke="rgb(183,23,13)" stroke-width="1" opacity="0.35"/>
<line x1="82.2" y1="145.0" x2="84.5" y2="145.9" stroke="rgb(178,8,11)" stroke-width="1" opacity="0.76"/>
<line x1="55.8" y1="150.8" x2="56.8" y2="153.7" stroke="rgb(189,21,10)" stroke-width="1.2" opacity="0.87"/>
<line x1="63.3" y1="159.1" x2="60.7" y2="160.6" stroke="rgb(210,16,13)" stroke-width="1" opacity="0.85"/>
<line x1="83.8" y1="188.9" x2="81.1" y2="190.1" stroke="rgb(160,29,19)" stroke-width="1" opacity="0.89"/>
<line x1="40.1" y1="171.1" x2="40.3" y2="172.6" stroke="rgb(166,17,21)" stroke-width="1.2" opacity="0.70"/>
<line x1="53.3" y1="155.3" x2="52.4" y2="158.1" stroke="rgb(193,10,12)" stroke-width="0.8" opacity="0.72"/>
<line x1="52.8" y1="181.7" x2="51.2" y2="184.2" stroke="rgb(170,11,10)" stroke-width="1.2" opacity="0.70"/>
<line x1="85.8" y1="149.9" x2="84.6" y2="151.5" stroke="rgb(228,20,28)" stroke-width="1.2" opacity="0.76"/>
<line x1="60.1" y1="137.5" x2="57.7" y2="137.7" stroke="rgb(191,23,28)" stroke-width="1.2" opacity="0.81"/>
<line x1="41.5" y1="159.6" x2="42.8" y2="160.3" stroke="rgb(199,27,16)" stroke-width="1" opacity="0.43"/>
<line x1="63.6" y1="158.1" x2="65.0" y2="158.6" stroke="rgb(152,21,10)" stroke-width="0.8" opacity="0.69"/>
<line x1="70.4" y1="181.6" x2="68.8" y2="183.6" stroke="rgb(158,11,11)" stroke-width="1" opacity="0.52"/>
<line x1="43.3" y1="136.4" x2="46.2" y2="137.1" stroke="rgb(187,21,22)" stroke-width="1" opacity="0.67"/>
<line x1="54.0" y1="192.9" x2="53.9" y2="193.9" stroke="rgb(234,21,17)" stroke-width="1.2" opacity="0.38"/>
<line x1="44.7" y1="158.2" x2="44.3" y2="159.7" stroke="rgb(242,16,29)" stroke-width="1" opacity="0.51"/>
<line x1="66.2" y1="132.0" x2="67.4" y2="133.6" stroke="rgb(185,28,28)" stroke-width="1.2" opacity="0.40"/>
<line x1="63.2" y1="163.2" x2="64.6" y2="164.6" stroke="rgb(215,16,27)" stroke-width="1.2" opacity="0.84"/>
<line x1="85.5" y1="191.5" x2="83.1" y2="193.3" stroke="rgb(167,25,28)" stroke-width="0.8" opacity="0.80"/>
<line x1="65.4" y1="135.7" x2="66.1" y2="137.1" stroke="rgb(238,27,14)" stroke-width="1" opacity="0.60"/>
<line x1="72.7" y1="136.8" x2="73.5" y2="137.3" stroke="rgb(232,28,24)" stroke-width="1.2" opacity="0.58"/>
<line x1="81.2" y1="192.5" x2="81.7" y2="193.9" stroke="rgb(239,25,28)" stroke-width="1" opacity="0.57"/>
<line x1="66.0" y1="163.9" x2="63.7" y2="165.8" stroke="rgb(221,22,9)" stroke-width="0.8" opacity="0.48"/>
<line x1="74.0" y1="176.8" x2="72.2" y2="177.5" stroke="rgb(184,22,23)" stroke-width="1" opacity="0.52"/>
<line x1="56.6" y1="182.2" x2="55.1" y2="184.8" stroke="rgb(171,10,12)" stroke-width="1.2" opacity="0.64"/>
<line x1="61.7" y1="186.5" x2="60.8" y2="187.6" stroke="rgb(178,18,17)" stroke-width="1" opacity="0.40"/>
<line x1="49.1" y1="190.0" x2="49.6" y2="191.4" stroke="rgb(151,22,28)" stroke-width="1" opacity="0.78"/>
<line x1="43.9" y1="191.7" x2="45.4" y2="191.8" stroke="rgb(162,22,30)" stroke-width="1" opacity="0.67"/>
<line x1="62.9" y1="146.5" x2="62.5" y2="148.4" stroke="rgb(154,11,26)" stroke-width="0.8" opacity="0.70"/>
<line x1="66.8" y1="187.7" x2="65.5" y2="188.6" stroke="rgb(169,25,22)" stroke-width="1" opacity="0.54"/>
<line x1="47.0" y1="136.4" x2="46.4" y2="138.3" stroke="rgb(174,17,26)" stroke-width="1.2" opacity="0.53"/>
<line x1="72.3" y1="190.8" x2="70.4" y2="191.2" stroke="rgb(249,24,22)" stroke-width="1" opacity="0.60"/>
<line x1="74.8" y1="151.1" x2="75.5" y2="151.8" stroke="rgb(237,29,30)" stroke-width="0.8" opacity="0.47"/>
<line x1="49.2" y1="173.7" x2="47.2" y2="173.7" stroke="rgb(207,23,9)" stroke-width="1.2" opacity="0.81"/>
<line x1="40.9" y1="187.7" x2="38.0" y2="188.1" stroke="rgb(202,15,12)" stroke-width="0.8" opacity="0.67"/>
<line x1="50.6" y1="150.3" x2="53.0" y2="150.7" stroke="rgb(214,8,18)" stroke-width="0.8" opacity="0.68"/>
<line x1="43.9" y1="134.2" x2="42.4" y2="136.2" stroke="rgb(197,11,26)" stroke-width="1" opacity="0.67"/>
<line x1="40.1" y1="155.4" x2="37.1" y2="155.8" stroke="rgb(213,25,24)" stroke-width="1" opacity="0.41"/>
<line x1="44.1" y1="173.1" x2="42.0" y2="174.6" stroke="rgb(226,8,11)" stroke-width="1.2" opacity="0.68"/>
<line x1="80.0" y1="194.3" x2="79.7" y2="195.3" stroke="rgb(203,29,27)" stroke-width="1" opacity="0.72"/>
<line x1="39.6" y1="161.3" x2="39.2" y2="163.2" stroke="rgb(198,11,17)" stroke-width="1.2" opacity="0.77"/>
<line x1="68.2" y1="152.0" x2="69.1" y2="154.9" stroke="rgb(222,29,8)" stroke-width="1" opacity="0.60"/>
<line x1="65.2" y1="177.6" x2="63.2" y2="179.8" stroke="rgb(188,28,25)" stroke-width="0.8" opacity="0.74"/>
<line x1="83.5" y1="131.5" x2="82.8" y2="132.2" stroke="rgb(181,8,28)" stroke-width="0.8" opacity="0.79"/>
<line x1="50.6" y1="155.2" x2="47.6" y2="155.4" stroke="rgb(248,18,27)" stroke-width="1.2" opacity="0.43"/>
<line x1="78.5" y1="130.7" x2="79.0" y2="131.5" stroke="rgb(159,12,20)" stroke-width="0.8" opacity="0.86"/>
<line x1="64.7" y1="133.2" x2="64.6" y2="135.7" stroke="rgb(168,23,11)" stroke-width="0.8" opacity="0.84"/>
<line x1="46.7" y1="150.4" x2="45.7" y2="150.9" stroke="rgb(255,16,11)" stroke-width="0.8" opacity="0.78"/>
<line x1="69.0" y1="184.4" x2="67.0" y2="184.5" stroke="rgb(166,13,18)" stroke-width="1.2" opacity="0.73"/>
<line x1="71.3" y1="185.4" x2="69.7" y2="186.6" stroke="rgb(227,25,13)" stroke-width="0.8" opacity="0.69"/>
<line x1="56.8" y1="140.4" x2="56.3" y2="141.3" stroke="rgb(165,14,17)" stroke-width="0.8" opacity="0.52"/>
<line x1="44.1" y1="148.8" x2="42.0" y2="150.2" stroke="rgb(219,13,22)" stroke-width="0.8" opacity="0.40"/>
<line x1="58.2" y1="142.2" x2="59.2" y2="142.5" stroke="rgb(235,20,10)" stroke-width="0.8" opacity="0.49"/>
<line x1="40.9" y1="152.6" x2="39.4" y2="154.6" stroke="rgb(250,22,25)" stroke-width="1" opacity="0.73"/>
<line x1="45.4" y1="155.5" x2="46.6" y2="157.1" stroke="rgb(165,14,21)" stroke-width="1" opacity="0.59"/>
<line x1="48.2" y1="187.2" x2="49.0" y2="189.0" stroke="rgb(161,11,22)" stroke-width="0.8" opacity="0.66"/>
<line x1="85.6" y1="161.7" x2="86.3" y2="163.5" stroke="rgb(165,25,28)" stroke-width="1.2" opacity="0.76"/>
<line x1="82.4" y1="173.2" x2="83.5" y2="174.9" stroke="rgb(209,17,26)" stroke-width="1" opacity="0.69"/>
<line x1="68.4" y1="141.8" x2="68.7" y2="142.8" stroke="rgb(252,8,16)" stroke-width="1.2" opacity="0.80"/>
<line x1="56.9" y1="184.1" x2="54.4" y2="184.2" stroke="rgb(243,14,30)" stroke-width="1.2" opacity="0.75"/>
<line x1="43.6" y1="193.8" x2="45.6" y2="195.3" stroke="rgb(197,26,29)" stroke-width="1.2" opacity="0.87"/>
<rect x="68.9" y="154.2" width="1.5" height="1.5" fill="#7a1010" opacity="0.5"/>
<rect x="44.5" y="135.0" width="1.5" height="1.5" fill="#7a1010" opacity="0.5"/>
<rect x="63.6" y="168.3" width="1.5" height="1.5" fill="#7a1010" opacity="0.5"/>
<rect x="60.3" y="194.1" width="1.5" height="1.5" fill="#7a1010" opacity="0.5"/>
<rect x="58.7" y="153.3" width="1.5" height="1.5" fill="#7a1010" opacity="0.5"/>
<rect x="58.9" y="141.7" width="1.5" height="1.5" fill="#7a1010" opacity="0.5"/>
<rect x="83.2" y="168.8" width="1.5" height="1.5" fill="#7a1010" opacity="0.5"/>
<rect x="64.7" y="158.1" width="1.5" height="1.5" fill="#7a1010" opacity="0.5"/>
<rect x="51.1" y="151.0" width="1.5" height="1.5" fill="#7a1010" opacity="0.5"/>
<rect x="62.5" y="159.4" width="1.5" height="1.5" fill="#7a1010" opacity="0.5"/>
<rect x="85.0" y="167.0" width="1.5" height="1.5" fill="#7a1010" opacity="0.5"/>
<rect x="49.1" y="134.1" width="1.5" height="1.5" fill="#7a1010" opacity="0.5"/>
<rect x="46.9" y="152.9" width="1.5" height="1.5" fill="#7a1010" opacity="0.5"/>
<rect x="75.9" y="188.0" width="1.5" height="1.5" fill="#7a1010" opacity="0.5"/>
<rect x="50.5" y="181.0" width="1.5" height="1.5" fill="#7a1010" opacity="0.5"/>
<rect x="60.0" y="165.3" width="1.5" height="1.5" fill="#7a1010" opacity="0.5"/>
<rect x="64.3" y="133.3" width="1.5" height="1.5" fill="#7a1010" opacity="0.5"/>
<rect x="42.6" y="173.7" width="1.5" height="1.5" fill="#7a1010" opacity="0.5"/>
<rect x="71.5" y="155.2" width="1.5" height="1.5" fill="#7a1010" opacity="0.5"/>
<rect x="82.2" y="183.6" width="1.5" height="1.5" fill="#7a1010" opacity="0.5"/>
<rect x="53.5" y="134.9" width="1.5" height="1.5" fill="#7a1010" opacity="0.5"/>
<rect x="65.2" y="172.9" width="1.5" height="1.5" fill="#7a1010" opacity="0.5"/>
<rect x="49.9" y="133.4" width="1.5" height="1.5" fill="#7a1010" opacity="0.5"/>
<rect x="62.1" y="132.8" width="1.5" height="1.5" fill="#7a1010" opacity="0.5"/>
<rect x="73.8" y="171.0" width="1.5" height="1.5" fill="#7a1010" opacity="0.5"/>
<rect x="52.5" y="159.4" width="1.5" height="1.5" fill="#7a1010" opacity="0.5"/>
<rect x="50.3" y="142.6" width="1.5" height="1.5" fill="#7a1010" opacity="0.5"/>
<rect x="47.9" y="183.3" width="1.5" height="1.5" fill="#7a1010" opacity="0.5"/>
<rect x="60.6" y="176.8" width="1.5" height="1.5" fill="#7a1010" opacity="0.5"/>
<rect x="55.7" y="182.7" width="1.5" height="1.5" fill="#7a1010" opacity="0.5"/>
<rect x="67.2" y="172.9" width="1.5" height="1.5" fill="#7a1010" opacity="0.5"/>
<rect x="57.8" y="166.9" width="1.5" height="1.5" fill="#7a1010" opacity="0.5"/>
<rect x="48.4" y="193.5" width="1.5" height="1.5" fill="#7a1010" opacity="0.5"/>
<rect x="70.8" y="165.0" width="1.5" height="1.5" fill="#7a1010" opacity="0.5"/>
<rect x="69.2" y="137.1" width="1.5" height="1.5" fill="#7a1010" opacity="0.5"/>
<rect x="55.1" y="145.5" width="1.5" height="1.5" fill="#7a1010" opacity="0.5"/>
<rect x="78.7" y="131.4" width="1.5" height="1.5" fill="#7a1010" opacity="0.5"/>
<rect x="60.2" y="186.7" width="1.5" height="1.5" fill="#7a1010" opacity="0.5"/>
<rect x="75.9" y="177.0" width="1.5" height="1.5" fill="#7a1010" opacity="0.5"/>
<rect x="53.5" y="145.6" width="1.5" height="1.5" fill="#7a1010" opacity="0.5"/>
<rect x="72.3" y="149.9" width="1.5" height="1.5" fill="#7a1010" opacity="0.5"/>
<rect x="73.1" y="153.2" width="1.5" height="1.5" fill="#7a1010" opacity="0.5"/>
<rect x="74.9" y="167.6" width="1.5" height="1.5" fill="#7a1010" opacity="0.5"/>
<rect x="77.4" y="194.3" width="1.5" height="1.5" fill="#7a1010" opacity="0.5"/>
<rect x="57.1" y="194.3" width="1.5" height="1.5" fill="#7a1010" opacity="0.5"/>
<rect x="40.0" y="187.3" width="1.5" height="1.5" fill="#7a1010" opacity="0.5"/>
<rect x="40.9" y="165.8" width="1.5" height="1.5" fill="#7a1010" opacity="0.5"/>
<rect x="57.6" y="180.3" width="1.5" height="1.5" fill="#7a1010" opacity="0.5"/>
<rect x="54.1" y="144.1" width="1.5" height="1.5" fill="#7a1010" opacity="0.5"/>
<rect x="76.0" y="166.2" width="1.5" height="1.5" fill="#7a1010" opacity="0.5"/>
<rect x="74.6" y="162.2" width="1.5" height="1.5" fill="#7a1010" opacity="0.5"/>
<rect x="41.2" y="180.4" width="1.5" height="1.5" fill="#7a1010" opacity="0.5"/>
<rect x="49.6" y="161.1" width="1.5" height="1.5" fill="#7a1010" opacity="0.5"/>
<rect x="39.5" y="147.3" width="1.5" height="1.5" fill="#7a1010" opacity="0.5"/>
<rect x="70.5" y="180.0" width="1.5" height="1.5" fill="#7a1010" opacity="0.5"/>
<rect x="69.1" y="159.2" width="1.5" height="1.5" fill="#7a1010" opacity="0.5"/>
<rect x="73.6" y="173.8" width="1.5" height="1.5" fill="#7a1010" opacity="0.5"/>
<rect x="49.1" y="165.2" width="1.5" height="1.5" fill="#7a1010" opacity="0.5"/>
<rect x="67.3" y="177.7" width="1.5" height="1.5" fill="#7a1010" opacity="0.5"/>
<rect x="48.7" y="150.7" width="1.5" height="1.5" fill="#7a1010" opacity="0.5"/>
<rect x="55.4" y="136.8" width="1.5" height="1.5" fill="#7a1010" opacity="0.5"/>
<rect x="55.7" y="177.7" width="1.5" height="1.5" fill="#7a1010" opacity="0.5"/>
<rect x="66.4" y="141.8" width="1.5" height="1.5" fill="#7a1010" opacity="0.5"/>
<rect x="73.5" y="138.1" width="1.5" height="1.5" fill="#7a1010" opacity="0.5"/>
<rect x="74.4" y="140.1" width="1.5" height="1.5" fill="#7a1010" opacity="0.5"/>
<rect x="44.0" y="146.9" width="1.5" height="1.5" fill="#7a1010" opacity="0.5"/>
<rect x="63.4" y="148.0" width="1.5" height="1.5" fill="#7a1010" opacity="0.5"/>
<rect x="80.6" y="191.2" width="1.5" height="1.5" fill="#7a1010" opacity="0.5"/>
<rect x="52.7" y="179.0" width="1.5" height="1.5" fill="#7a1010" opacity="0.5"/>
<rect x="71.8" y="166.9" width="1.5" height="1.5" fill="#7a1010" opacity="0.5"/>
<rect x="51.4" y="191.9" width="1.5" height="1.5" fill="#7a1010" opacity="0.5"/>
<rect x="84.0" y="131.4" width="1.5" height="1.5" fill="#7a1010" opacity="0.5"/>
<rect x="54.8" y="151.3" width="1.5" height="1.5" fill="#7a1010" opacity="0.5"/>
<rect x="48.7" y="158.4" width="1.5" height="1.5" fill="#7a1010" opacity="0.5"/>
<rect x="81.3" y="132.1" width="1.5" height="1.5" fill="#7a1010" opacity="0.5"/>
<rect x="78.4" y="150.6" width="1.5" height="1.5" fill="#7a1010" opacity="0.5"/>
<rect x="40.1" y="188.7" width="1.5" height="1.5" fill="#7a1010" opacity="0.5"/>
<rect x="52.2" y="144.3" width="1.5" height="1.5" fill="#7a1010" opacity="0.5"/>
<rect x="44.9" y="154.3" width="1.5" height="1.5" fill="#7a1010" opacity="0.5"/>
<rect x="45.1" y="142.2" width="1.5" height="1.5" fill="#7a1010" opacity="0.5"/>
<rect x="51.1" y="168.0" width="1.5" height="1.5" fill="#7a1010" opacity="0.5"/>
<rect x="60.2" y="150.3" width="1.5" height="1.5" fill="#7a1010" opacity="0.5"/>
<rect x="64.0" y="180.6" width="1.5" height="1.5" fill="#7a1010" opacity="0.5"/>
<rect x="73.2" y="152.8" width="1.5" height="1.5" fill="#7a1010" opacity="0.5"/>
<rect x="82.2" y="181.7" width="1.5" height="1.5" fill="#7a1010" opacity="0.5"/>
<rect x="65.6" y="161.3" width="1.5" height="1.5" fill="#7a1010" opacity="0.5"/>
<rect x="54.8" y="139.3" width="1.5" height="1.5" fill="#7a1010" opacity="0.5"/>
<rect x="80.7" y="169.9" width="1.5" height="1.5" fill="#7a1010" opacity="0.5"/>
<rect x="44.1" y="190.4" width="1.5" height="1.5" fill="#7a1010" opacity="0.5"/>
<rect x="80.7" y="132.8" width="1.5" height="1.5" fill="#7a1010" opacity="0.5"/>
<rect x="72.1" y="146.0" width="1.5" height="1.5" fill="#7a1010" opacity="0.5"/>
<rect x="64.4" y="184.5" width="1.5" height="1.5" fill="#7a1010" opacity="0.5"/>
<rect x="55.8" y="162.8" width="1.5" height="1.5" fill="#7a1010" opacity="0.5"/>
<rect x="70.4" y="143.0" width="1.5" height="1.5" fill="#7a1010" opacity="0.5"/>
<rect x="68.6" y="158.1" width="1.5" height="1.5" fill="#7a1010" opacity="0.5"/>
<rect x="85.2" y="142.7" width="1.5" height="1.5" fill="#7a1010" opacity="0.5"/>
<rect x="72.6" y="133.3" width="1.5" height="1.5" fill="#7a1010" opacity="0.5"/>
<rect x="52.2" y="138.2" width="1.5" height="1.5" fill="#7a1010" opacity="0.5"/>
<rect x="46.4" y="164.7" width="1.5" height="1.5" fill="#7a1010" opacity="0.5"/>
<rect x="47.6" y="181.9" width="1.5" height="1.5" fill="#7a1010" opacity="0.5"/>
<rect x="44.0" y="170.8" width="1.5" height="1.5" fill="#7a1010" opacity="0.5"/>
<rect x="79.5" y="138.8" width="1.5" height="1.5" fill="#7a1010" opacity="0.5"/>
<rect x="49.6" y="180.0" width="1.5" height="1.5" fill="#7a1010" opacity="0.5"/>
<rect x="61.4" y="190.8" width="1.5" height="1.5" fill="#7a1010" opacity="0.5"/>
<rect x="55.2" y="156.3" width="1.5" height="1.5" fill="#7a1010" opacity="0.5"/>
<rect x="84.0" y="152.8" width="1.5" height="1.5" fill="#7a1010" opacity="0.5"/>
<rect x="84.4" y="188.2" width="1.5" height="1.5" fill="#7a1010" opacity="0.5"/>
<rect x="48.8" y="165.9" width="1.5" height="1.5" fill="#7a1010" opacity="0.5"/>
<rect x="83.3" y="138.2" width="1.5" height="1.5" fill="#7a1010" opacity="0.5"/>
<rect x="79.0" y="180.6" width="1.5" height="1.5" fill="#7a1010" opacity="0.5"/>
<rect x="74.3" y="169.4" width="1.5" height="1.5" fill="#7a1010" opacity="0.5"/>
<rect x="44.1" y="192.5" width="1.5" height="1.5" fill="#7a1010" opacity="0.5"/>
<rect x="44.3" y="181.2" width="1.5" height="1.5" fill="#7a1010" opacity="0.5"/>
<rect x="73.1" y="151.1" width="1.5" height="1.5" fill="#7a1010" opacity="0.5"/>
<rect x="71.3" y="157.1" width="1.5" height="1.5" fill="#7a1010" opacity="0.5"/>
<rect x="74.4" y="133.4" width="1.5" height="1.5" fill="#7a1010" opacity="0.5"/>
<rect x="82.9" y="155.4" width="1.5" height="1.5" fill="#7a1010" opacity="0.5"/>
<rect x="76.8" y="161.1" width="1.5" height="1.5" fill="#7a1010" opacity="0.5"/>
<rect x="77.3" y="150.1" width="1.5" height="1.5" fill="#7a1010" opacity="0.5"/>
<rect x="64.8" y="132.2" width="1.5" height="1.5" fill="#7a1010" opacity="0.5"/>
<linearGradient id="lb" x1="0" x2="1" y1="0" y2="0"><stop offset="0" stop-color="#e01818" stop-opacity="0.9"/><stop offset="1" stop-color="#d01818" stop-opacity="0"/></linearGradient>
<rect x="39.5" y="130.6" width="5" height="64.6" fill="url(#lb)"/>
<linearGradient id="vg" x1="0" x2="0" y1="0" y2="1"><stop offset="0" stop-color="#000" stop-opacity="0.6"/><stop offset="0.12" stop-color="#000" stop-opacity="0.2"/><stop offset="0.6" stop-color="#000" stop-opacity="0"/><stop offset="1" stop-color="#000" stop-opacity="0.3"/></linearGradient>
<rect x="39.5" y="130.6" width="45" height="64.6" fill="url(#vg)"/>
<circle cx="52.3" cy="145.4" r="0.8" fill="#fff"/><circle cx="56.5" cy="153.3" r="0.8" fill="#fff"/>
<linearGradient id="gb" x1="0" x2="0" y1="0" y2="1"><stop offset="0" stop-color="#ff2010" stop-opacity="0"/><stop offset="0.35" stop-color="#e01010" stop-opacity="0.15"/><stop offset="0.7" stop-color="#e01010" stop-opacity="0.6"/><stop offset="1" stop-color="#ff2a10" stop-opacity="1"/></linearGradient>
<linearGradient id="gb2" x1="0" x2="1" y1="0" y2="0"><stop offset="0" stop-color="#000" stop-opacity="0"/><stop offset="1" stop-color="#000" stop-opacity="0.9"/></linearGradient>
<rect x="84.5" y="130.6" width="7" height="64.6" fill="url(#gb)"/>
<rect x="87" y="130.6" width="4" height="64.6" fill="url(#gb)" opacity="0.7"/>
<rect x="90.5" y="130.6" width="1.5" height="64.6" fill="url(#gb2)"/>
<path d="M91,134 L80,172 M88,145 L82,168 M90,155 L84,190 M86,140 L78,160" stroke="#e02020" stroke-width="0.6" opacity="0.8"/>
<line x1="41.8" y1="130.6" x2="41.8" y2="195.2" stroke="#e0d8d8" stroke-width="0.8" stroke-dasharray="1.5 1.5" opacity="0.45"/>
<line x1="81.5" y1="130.6" x2="81.5" y2="195.2" stroke="#e0d8d8" stroke-width="0.8" stroke-dasharray="1.5 1.5" opacity="0.75"/>
<line x1="105" y1="130.6" x2="105" y2="195.2" stroke="#e0d8d8" stroke-width="0.8" stroke-dasharray="1.5 1.5" opacity="0.6"/>
<line x1="144.5" y1="130.6" x2="144.5" y2="195.2" stroke="#e0d8d8" stroke-width="0.8" stroke-dasharray="1.5 1.5" opacity="0.6"/>
<text x="0" y="0" transform="translate(34.6,141.3) scale(0.85,1)" font-size="9.4" fill="#f4f4f4" stroke="#f4f4f4" stroke-width="0.3">(c) <tspan font-style="italic">T</tspan> = 34 K</text>
<text x="0" y="0" transform="translate(97.5,140.8) scale(0.85,1)" font-size="9.4" fill="#f4f4f4" stroke="#f4f4f4" stroke-width="0.3">(d) <tspan font-style="italic">T</tspan> = 133 K</text>
<text x="56" y="189.3" font-size="7.5" font-weight="bold" fill="#f0f0f0">300 μm</text>
<line x1="53" y1="193" x2="88" y2="193" stroke="#f0f0f0" stroke-width="1"/>
<rect x="32.5" y="18.5" width="120.0" height="182.0" fill="none" stroke="#000" stroke-width="1"/>
<rect x="161.5" y="18.5" width="121.0" height="182.0" fill="none" stroke="#000" stroke-width="1"/>
<line x1="32.5" y1="200.5" x2="32.5" y2="204.5" stroke="#000" stroke-width="1"/>
<line x1="161.5" y1="200.5" x2="161.5" y2="204.5" stroke="#000" stroke-width="1"/>
<line x1="47.5" y1="18.5" x2="47.5" y2="21.0" stroke="#000" stroke-width="1"/>
<line x1="47.5" y1="200.5" x2="47.5" y2="203.0" stroke="#000" stroke-width="1"/>
<line x1="176.5" y1="18.5" x2="176.5" y2="21.0" stroke="#000" stroke-width="1"/>
<line x1="176.5" y1="200.5" x2="176.5" y2="203.0" stroke="#000" stroke-width="1"/>
<line x1="62.5" y1="18.5" x2="62.5" y2="22.5" stroke="#000" stroke-width="1"/>
<line x1="62.5" y1="200.5" x2="62.5" y2="204.5" stroke="#000" stroke-width="1"/>
<line x1="191.5" y1="18.5" x2="191.5" y2="22.5" stroke="#000" stroke-width="1"/>
<line x1="191.5" y1="200.5" x2="191.5" y2="204.5" stroke="#000" stroke-width="1"/>
<line x1="77.5" y1="18.5" x2="77.5" y2="21.0" stroke="#000" stroke-width="1"/>
<line x1="77.5" y1="200.5" x2="77.5" y2="203.0" stroke="#000" stroke-width="1"/>
<line x1="206.5" y1="18.5" x2="206.5" y2="21.0" stroke="#000" stroke-width="1"/>
<line x1="206.5" y1="200.5" x2="206.5" y2="203.0" stroke="#000" stroke-width="1"/>
<line x1="92.5" y1="18.5" x2="92.5" y2="22.5" stroke="#000" stroke-width="1"/>
<line x1="92.5" y1="200.5" x2="92.5" y2="204.5" stroke="#000" stroke-width="1"/>
<line x1="221.5" y1="18.5" x2="221.5" y2="22.5" stroke="#000" stroke-width="1"/>
<line x1="221.5" y1="200.5" x2="221.5" y2="204.5" stroke="#000" stroke-width="1"/>
<line x1="107.5" y1="18.5" x2="107.5" y2="21.0" stroke="#000" stroke-width="1"/>
<line x1="107.5" y1="200.5" x2="107.5" y2="203.0" stroke="#000" stroke-width="1"/>
<line x1="236.5" y1="18.5" x2="236.5" y2="21.0" stroke="#000" stroke-width="1"/>
<line x1="236.5" y1="200.5" x2="236.5" y2="203.0" stroke="#000" stroke-width="1"/>
<line x1="122.5" y1="18.5" x2="122.5" y2="22.5" stroke="#000" stroke-width="1"/>
<line x1="122.5" y1="200.5" x2="122.5" y2="204.5" stroke="#000" stroke-width="1"/>
<line x1="252.5" y1="18.5" x2="252.5" y2="22.5" stroke="#000" stroke-width="1"/>
<line x1="252.5" y1="200.5" x2="252.5" y2="204.5" stroke="#000" stroke-width="1"/>
<line x1="137.5" y1="18.5" x2="137.5" y2="21.0" stroke="#000" stroke-width="1"/>
<line x1="137.5" y1="200.5" x2="137.5" y2="203.0" stroke="#000" stroke-width="1"/>
<line x1="267.5" y1="18.5" x2="267.5" y2="21.0" stroke="#000" stroke-width="1"/>
<line x1="267.5" y1="200.5" x2="267.5" y2="203.0" stroke="#000" stroke-width="1"/>
<line x1="30.0" y1="171.5" x2="32.5" y2="171.5" stroke="#000" stroke-width="1"/>
<line x1="150.0" y1="171.5" x2="152.5" y2="171.5" stroke="#000" stroke-width="1"/>
<line x1="28.5" y1="141.5" x2="32.5" y2="141.5" stroke="#000" stroke-width="1"/>
<line x1="148.5" y1="141.5" x2="152.5" y2="141.5" stroke="#000" stroke-width="1"/>
<line x1="30.0" y1="112.5" x2="32.5" y2="112.5" stroke="#000" stroke-width="1"/>
<line x1="150.0" y1="112.5" x2="152.5" y2="112.5" stroke="#000" stroke-width="1"/>
<line x1="28.5" y1="82.5" x2="32.5" y2="82.5" stroke="#000" stroke-width="1"/>
<line x1="148.5" y1="82.5" x2="152.5" y2="82.5" stroke="#000" stroke-width="1"/>
<line x1="30.0" y1="53.5" x2="32.5" y2="53.5" stroke="#000" stroke-width="1"/>
<line x1="150.0" y1="53.5" x2="152.5" y2="53.5" stroke="#000" stroke-width="1"/>
<line x1="28.5" y1="24.5" x2="32.5" y2="24.5" stroke="#000" stroke-width="1"/>
<line x1="148.5" y1="24.5" x2="152.5" y2="24.5" stroke="#000" stroke-width="1"/>
<line x1="161.5" y1="174.5" x2="164.5" y2="174.5" stroke="#000" stroke-width="1"/>
<line x1="279.5" y1="174.5" x2="282.5" y2="174.5" stroke="#000" stroke-width="1"/>
<line x1="161.5" y1="149.5" x2="166.0" y2="149.5" stroke="#000" stroke-width="1"/>
<line x1="278.0" y1="149.5" x2="282.5" y2="149.5" stroke="#000" stroke-width="1"/>
<line x1="161.5" y1="123.5" x2="164.5" y2="123.5" stroke="#000" stroke-width="1"/>
<line x1="279.5" y1="123.5" x2="282.5" y2="123.5" stroke="#000" stroke-width="1"/>
<line x1="161.5" y1="97.5" x2="166.0" y2="97.5" stroke="#000" stroke-width="1"/>
<line x1="278.0" y1="97.5" x2="282.5" y2="97.5" stroke="#000" stroke-width="1"/>
<line x1="161.5" y1="72.5" x2="164.5" y2="72.5" stroke="#000" stroke-width="1"/>
<line x1="279.5" y1="72.5" x2="282.5" y2="72.5" stroke="#000" stroke-width="1"/>
<line x1="161.5" y1="46.5" x2="166.0" y2="46.5" stroke="#000" stroke-width="1"/>
<line x1="278.0" y1="46.5" x2="282.5" y2="46.5" stroke="#000" stroke-width="1"/>
<line x1="161.5" y1="20.5" x2="164.5" y2="20.5" stroke="#000" stroke-width="1"/>
<line x1="279.5" y1="20.5" x2="282.5" y2="20.5" stroke="#000" stroke-width="1"/>
<text x="19.33" y="202.70000000000002" font-size="12" fill="#000">0</text>
<path d="M23.29,144.00 V135.41 M23.59,135.71 Q22.69,137.01 20.53,138.65" stroke="#000" stroke-width="1.08" fill="none"/>
<text x="19.33" y="85.3" font-size="12" fill="#000">2</text>
<text x="19.33" y="26.599999999999984" font-size="12" fill="#000">3</text>
<text x="29.16" y="214.5" font-size="12" fill="#000">0</text>
<text x="158.16" y="213.5" font-size="12" fill="#000">0</text>
<text x="55.83" y="214.5" font-size="12" fill="#000">5</text>
<text x="62.50" y="214.5" font-size="12" fill="#000">0</text>
<text x="185.03" y="213.5" font-size="12" fill="#000">5</text>
<text x="191.70" y="213.5" font-size="12" fill="#000">0</text>
<path d="M86.45,214.50 V205.91 M86.75,206.21 Q85.85,207.51 83.69,209.15" stroke="#000" stroke-width="1.08" fill="none"/>
<text x="89.16" y="214.5" font-size="12" fill="#000">0</text>
<text x="95.84" y="214.5" font-size="12" fill="#000">0</text>
<path d="M215.85,213.50 V204.91 M216.15,205.21 Q215.25,206.51 213.09,208.15" stroke="#000" stroke-width="1.08" fill="none"/>
<text x="218.56" y="213.5" font-size="12" fill="#000">0</text>
<text x="225.24" y="213.5" font-size="12" fill="#000">0</text>
<path d="M116.45,214.50 V205.91 M116.75,206.21 Q115.85,207.51 113.69,209.15" stroke="#000" stroke-width="1.08" fill="none"/>
<text x="119.16" y="214.5" font-size="12" fill="#000">5</text>
<text x="125.84" y="214.5" font-size="12" fill="#000">0</text>
<path d="M246.05,213.50 V204.91 M246.35,205.21 Q245.45,206.51 243.29,208.15" stroke="#000" stroke-width="1.08" fill="none"/>
<text x="248.76" y="213.5" font-size="12" fill="#000">5</text>
<text x="255.44" y="213.5" font-size="12" fill="#000">0</text>
<text x="286" y="203.1" font-size="11.5" fill="#000" text-anchor="start"  >0.0</text>
<text x="286" y="151.7" font-size="11.5" fill="#000" text-anchor="start"  >0.2</text>
<text x="286" y="100.29999999999998" font-size="11.5" fill="#000" text-anchor="start"  >0.4</text>
<text x="286" y="48.90000000000001" font-size="11.5" fill="#000" text-anchor="start"  >0.6</text>
<text x="55" y="227.7" font-size="12" fill="#000" text-anchor="start"  >Temperature, K</text>
<text x="184.5" y="227.7" font-size="12" fill="#000" text-anchor="start"  >Temperature, K</text>
<text x="123.5" y="34.6" font-size="11" fill="#000" text-anchor="start"  >FM</text>
<text x="250.5" y="31.8" font-size="11" fill="#000" text-anchor="start"  >AFM</text>
<text x="71" y="30.8" font-size="12" fill="#0e0e58" text-anchor="start"  >70%</text>
<path d="M37.94,34.90 V28.10 M38.24,28.40 Q37.44,29.50 36.22,30.47" stroke="#0e0e58" stroke-width="1.05" fill="none"/>
<text transform="translate(39.93,34.9) scale(0.82,1)" font-size="9.5" fill="#0e0e58" stroke="#0e0e58" stroke-width="0.3">6</text>
<ellipse cx="49.6" cy="36.75" rx="4.3" ry="4.5" fill="none" stroke="#0e0e58" stroke-width="1.2"/>
<text x="48.5" y="64.9" font-size="11.5" fill="#9a1c1c" text-anchor="start"  >45%</text>
<path d="M40.94,91.90 V85.10 M41.24,85.40 Q40.44,86.50 39.22,87.47" stroke="#9a1c1c" stroke-width="1.05" fill="none"/>
<text transform="translate(42.93,91.9) scale(0.82,1)" font-size="9.5" fill="#9a1c1c" stroke="#9a1c1c" stroke-width="0.3">8</text>
<ellipse cx="52.25" cy="93.85" rx="4.3" ry="4.7" fill="none" stroke="#9a1c1c" stroke-width="1.2"/>
<text x="190.5" y="35" font-size="11.5" fill="#9a1c1c" text-anchor="start"  >55%</text>
<path d="M171.94,54.90 V48.10 M172.24,48.40 Q171.44,49.50 170.22,50.47" stroke="#9a1c1c" stroke-width="1.05" fill="none"/>
<text transform="translate(173.93,54.9) scale(0.82,1)" font-size="9.5" fill="#9a1c1c" stroke="#9a1c1c" stroke-width="0.3">8</text>
<ellipse cx="182.75" cy="56.6" rx="4.3" ry="4.5" fill="none" stroke="#9a1c1c" stroke-width="1.2"/>
<text x="170.5" y="89" font-size="11.5" fill="#0e0e58" text-anchor="start"  >30%</text>
<path d="M175.44,122.40 V115.60 M175.74,115.90 Q174.94,117.00 173.72,117.97" stroke="#0e0e58" stroke-width="1.05" fill="none"/>
<text transform="translate(177.43,122.4) scale(0.82,1)" font-size="9.5" fill="#0e0e58" stroke="#0e0e58" stroke-width="0.3">6</text>
<ellipse cx="186.3" cy="123.6" rx="4.3" ry="4.5" fill="none" stroke="#0e0e58" stroke-width="1.2"/>
<text x="125" y="67.6" font-size="12" fill="#000" text-anchor="start"  >T</text>
<text x="132.6" y="72.3" font-size="6.5" fill="#000" text-anchor="start"  stroke="#000" stroke-width="0.35">N</text>
<text x="256" y="148.9" font-size="12" fill="#000" text-anchor="start"  >T</text>
<text x="263.6" y="152.6" font-size="6.5" fill="#000" text-anchor="start"  stroke="#000" stroke-width="0.35">N</text>
<line x1="122.5" y1="68.2" x2="122.5" y2="103" stroke="#000" stroke-width="1"/>
<path d="M121.2,101.5 L123.8,101.5 L122.5,105 Z" fill="#000"/>
<line x1="253.5" y1="143.5" x2="253.5" y2="178" stroke="#000" stroke-width="1"/>
<path d="M252.2,176.5 L254.8,176.5 L253.5,180 Z" fill="#000"/>
<line x1="61" y1="125.4" x2="152" y2="125.4" stroke="#14145e" stroke-width="1"/>
<polyline points="43.1,65.6 49.5,69.5 55,71.8 61.5,75 67.3,79.2 73.7,84.7 80.2,92.8 85.2,100.6 91.5,109.5 97.5,116 104,122.2 109.5,123.5 115,125 121,125.5 134.5,125 141,125.5" fill="none" stroke="#a8e6ec" stroke-width="4.5" stroke-linejoin="round" stroke-linecap="round" opacity="0.85"/>
<circle cx="43.1" cy="65.6" r="3.7" fill="#80d6e0" opacity="0.85"/>
<circle cx="49.5" cy="69.5" r="3.7" fill="#80d6e0" opacity="0.85"/>
<circle cx="55" cy="71.8" r="3.7" fill="#80d6e0" opacity="0.85"/>
<circle cx="61.5" cy="75" r="3.7" fill="#80d6e0" opacity="0.85"/>
<circle cx="67.3" cy="79.2" r="3.7" fill="#80d6e0" opacity="0.85"/>
<circle cx="73.7" cy="84.7" r="3.7" fill="#80d6e0" opacity="0.85"/>
<circle cx="80.2" cy="92.8" r="3.7" fill="#80d6e0" opacity="0.85"/>
<circle cx="85.2" cy="100.6" r="3.7" fill="#80d6e0" opacity="0.85"/>
<circle cx="91.5" cy="109.5" r="3.7" fill="#80d6e0" opacity="0.85"/>
<circle cx="97.5" cy="116" r="3.7" fill="#80d6e0" opacity="0.85"/>
<circle cx="104" cy="122.2" r="3.7" fill="#80d6e0" opacity="0.85"/>
<circle cx="109.5" cy="123.5" r="3.7" fill="#80d6e0" opacity="0.85"/>
<circle cx="115" cy="125" r="3.7" fill="#80d6e0" opacity="0.85"/>
<circle cx="121" cy="125.5" r="3.7" fill="#80d6e0" opacity="0.85"/>
<circle cx="134.5" cy="125" r="3.7" fill="#80d6e0" opacity="0.85"/>
<circle cx="141" cy="125.5" r="3.7" fill="#80d6e0" opacity="0.85"/>
<polyline points="43.1,65.6 49.5,69.5 55,71.8 61.5,75 67.3,79.2 73.7,84.7 80.2,92.8 85.2,100.6 91.5,109.5 97.5,116 104,122.2 109.5,123.5 115,125 121,125.5 134.5,125 141,125.5" fill="none" stroke="#b02020" stroke-width="0.8"/>
<line x1="98.5" y1="99" x2="104" y2="124" stroke="#101060" stroke-width="0.8"/>
<circle cx="43.1" cy="65.6" r="2.3" fill="#d01818" stroke="#801010" stroke-width="0.5"/>
<path d="M41.7,64.69999999999999 L44.300000000000004,66.3" stroke="#ffd8d8" stroke-width="0.7"/>
<circle cx="49.5" cy="69.5" r="2.3" fill="#d01818" stroke="#801010" stroke-width="0.5"/>
<path d="M48.1,68.6 L50.7,70.2" stroke="#ffd8d8" stroke-width="0.7"/>
<circle cx="55" cy="71.8" r="2.3" fill="#d01818" stroke="#801010" stroke-width="0.5"/>
<path d="M53.6,70.89999999999999 L56.2,72.5" stroke="#ffd8d8" stroke-width="0.7"/>
<circle cx="61.5" cy="75" r="2.3" fill="#d01818" stroke="#801010" stroke-width="0.5"/>
<path d="M60.1,74.1 L62.7,75.7" stroke="#ffd8d8" stroke-width="0.7"/>
<circle cx="67.3" cy="79.2" r="2.3" fill="#d01818" stroke="#801010" stroke-width="0.5"/>
<path d="M65.89999999999999,78.3 L68.5,79.9" stroke="#ffd8d8" stroke-width="0.7"/>
<circle cx="73.7" cy="84.7" r="2.3" fill="#d01818" stroke="#801010" stroke-width="0.5"/>
<path d="M72.3,83.8 L74.9,85.4" stroke="#ffd8d8" stroke-width="0.7"/>
<circle cx="80.2" cy="92.8" r="2.3" fill="#d01818" stroke="#801010" stroke-width="0.5"/>
<path d="M78.8,91.89999999999999 L81.4,93.5" stroke="#ffd8d8" stroke-width="0.7"/>
<circle cx="85.2" cy="100.6" r="2.3" fill="#d01818" stroke="#801010" stroke-width="0.5"/>
<path d="M83.8,99.69999999999999 L86.4,101.3" stroke="#ffd8d8" stroke-width="0.7"/>
<circle cx="91.5" cy="109.5" r="2.3" fill="#d01818" stroke="#801010" stroke-width="0.5"/>
<path d="M90.1,108.6 L92.7,110.2" stroke="#ffd8d8" stroke-width="0.7"/>
<circle cx="97.5" cy="116" r="2.3" fill="#d01818" stroke="#801010" stroke-width="0.5"/>
<path d="M96.1,115.1 L98.7,116.7" stroke="#ffd8d8" stroke-width="0.7"/>
<circle cx="104" cy="122.2" r="2.3" fill="#d01818" stroke="#801010" stroke-width="0.5"/>
<path d="M102.6,121.3 L105.2,122.9" stroke="#ffd8d8" stroke-width="0.7"/>
<circle cx="109.5" cy="123.5" r="2.3" fill="#d01818" stroke="#801010" stroke-width="0.5"/>
<path d="M108.1,122.6 L110.7,124.2" stroke="#ffd8d8" stroke-width="0.7"/>
<circle cx="115" cy="125" r="2.3" fill="#d01818" stroke="#801010" stroke-width="0.5"/>
<path d="M113.6,124.1 L116.2,125.7" stroke="#ffd8d8" stroke-width="0.7"/>
<circle cx="121" cy="125.5" r="2.3" fill="#d01818" stroke="#801010" stroke-width="0.5"/>
<path d="M119.6,124.6 L122.2,126.2" stroke="#ffd8d8" stroke-width="0.7"/>
<circle cx="134.5" cy="125" r="2.3" fill="#d01818" stroke="#801010" stroke-width="0.5"/>
<path d="M133.1,124.1 L135.7,125.7" stroke="#ffd8d8" stroke-width="0.7"/>
<circle cx="141" cy="125.5" r="2.3" fill="#d01818" stroke="#801010" stroke-width="0.5"/>
<path d="M139.6,124.6 L142.2,126.2" stroke="#ffd8d8" stroke-width="0.7"/>
<polyline points="43.5,22.5 55.8,26.4 67.3,34.5 67.8,38 79.8,55.3 85.8,68.2 91.8,81.2 92.4,85.8 97.5,96.9 104.6,107 110.3,113 116.1,116.5 121.8,117.6 128.7,119.5 135.7,121.1 142.6,122.7 148.3,124.5" fill="none" stroke="#101060" stroke-width="0.9"/>
<circle cx="43.5" cy="22.5" r="3.7" fill="#1212cc" stroke="#06067a" stroke-width="0.7"/>
<path d="M41.7,22.3 Q43.5,21.0 45.0,22.0" fill="none" stroke="#9090ff" stroke-width="0.8"/>
<circle cx="55.8" cy="26.4" r="3.7" fill="#1212cc" stroke="#06067a" stroke-width="0.7"/>
<path d="M54.0,26.2 Q55.8,24.9 57.3,25.9" fill="none" stroke="#9090ff" stroke-width="0.8"/>
<circle cx="67.3" cy="34.5" r="3.7" fill="#1212cc" stroke="#06067a" stroke-width="0.7"/>
<path d="M65.5,34.3 Q67.3,33.0 68.8,34.0" fill="none" stroke="#9090ff" stroke-width="0.8"/>
<circle cx="67.8" cy="38" r="3.7" fill="#1212cc" stroke="#06067a" stroke-width="0.7"/>
<path d="M66.0,37.8 Q67.8,36.5 69.3,37.5" fill="none" stroke="#9090ff" stroke-width="0.8"/>
<circle cx="79.8" cy="55.3" r="3.7" fill="#1212cc" stroke="#06067a" stroke-width="0.7"/>
<path d="M78.0,55.099999999999994 Q79.8,53.8 81.3,54.8" fill="none" stroke="#9090ff" stroke-width="0.8"/>
<circle cx="85.8" cy="68.2" r="3.7" fill="#1212cc" stroke="#06067a" stroke-width="0.7"/>
<path d="M84.0,68.0 Q85.8,66.7 87.3,67.7" fill="none" stroke="#9090ff" stroke-width="0.8"/>
<circle cx="91.8" cy="81.2" r="3.7" fill="#1212cc" stroke="#06067a" stroke-width="0.7"/>
<path d="M90.0,81.0 Q91.8,79.7 93.3,80.7" fill="none" stroke="#9090ff" stroke-width="0.8"/>
<circle cx="92.4" cy="85.8" r="3.7" fill="#1212cc" stroke="#06067a" stroke-width="0.7"/>
<path d="M90.60000000000001,85.6 Q92.4,84.3 93.9,85.3" fill="none" stroke="#9090ff" stroke-width="0.8"/>
<circle cx="97.5" cy="96.9" r="3.7" fill="#1212cc" stroke="#06067a" stroke-width="0.7"/>
<path d="M95.7,96.7 Q97.5,95.4 99.0,96.4" fill="none" stroke="#9090ff" stroke-width="0.8"/>
<circle cx="104.6" cy="107" r="3.3" fill="#1212cc" stroke="#06067a" stroke-width="0.7"/>
<path d="M102.8,106.8 Q104.6,105.5 106.1,106.5" fill="none" stroke="#9090ff" stroke-width="0.8"/>
<circle cx="110.3" cy="113" r="3.3" fill="#1212cc" stroke="#06067a" stroke-width="0.7"/>
<path d="M108.5,112.8 Q110.3,111.5 111.8,112.5" fill="none" stroke="#9090ff" stroke-width="0.8"/>
<circle cx="116.1" cy="116.5" r="3.3" fill="#1212cc" stroke="#06067a" stroke-width="0.7"/>
<path d="M114.3,116.3 Q116.1,115.0 117.6,116.0" fill="none" stroke="#9090ff" stroke-width="0.8"/>
<circle cx="121.8" cy="117.6" r="3.3" fill="#1212cc" stroke="#06067a" stroke-width="0.7"/>
<path d="M120.0,117.39999999999999 Q121.8,116.1 123.3,117.1" fill="none" stroke="#9090ff" stroke-width="0.8"/>
<circle cx="128.7" cy="119.5" r="3.3" fill="#1212cc" stroke="#06067a" stroke-width="0.7"/>
<path d="M126.89999999999999,119.3 Q128.7,118.0 130.2,119.0" fill="none" stroke="#9090ff" stroke-width="0.8"/>
<circle cx="135.7" cy="121.1" r="3.3" fill="#1212cc" stroke="#06067a" stroke-width="0.7"/>
<path d="M133.89999999999998,120.89999999999999 Q135.7,119.6 137.2,120.6" fill="none" stroke="#9090ff" stroke-width="0.8"/>
<circle cx="142.6" cy="122.7" r="3.3" fill="#1212cc" stroke="#06067a" stroke-width="0.7"/>
<path d="M140.79999999999998,122.5 Q142.6,121.2 144.1,122.2" fill="none" stroke="#9090ff" stroke-width="0.8"/>
<circle cx="148.3" cy="124.5" r="3.3" fill="#1212cc" stroke="#06067a" stroke-width="0.7"/>
<path d="M146.5,124.3 Q148.3,123.0 149.8,124.0" fill="none" stroke="#9090ff" stroke-width="0.8"/>
<circle cx="173.5" cy="22.1" r="4.2" fill="#7fd3de" opacity="0.85"/>
<circle cx="173.2" cy="34.7" r="4.2" fill="#7fd3de" opacity="0.85"/>
<circle cx="180.3" cy="35.3" r="4.2" fill="#7fd3de" opacity="0.85"/>
<circle cx="186.2" cy="38" r="4.2" fill="#7fd3de" opacity="0.85"/>
<circle cx="192.3" cy="48.8" r="4.2" fill="#7fd3de" opacity="0.85"/>
<circle cx="198.3" cy="52.9" r="4.2" fill="#7fd3de" opacity="0.85"/>
<circle cx="204" cy="64.3" r="4.2" fill="#7fd3de" opacity="0.85"/>
<circle cx="209.3" cy="73.8" r="4.2" fill="#7fd3de" opacity="0.85"/>
<polyline points="173.2,22.4 173.2,34.7 180.5,34.9 186.3,38.7 192.1,48.7 198.2,53.2 203.5,64.5 209.5,74.5 214.4,84.2 218.5,96 222,106 227.3,118 230.5,123.5 234,130 237.5,146 240.2,156.5 246.8,174 251.8,191.4" fill="none" stroke="#b02030" stroke-width="0.9"/>
<path d="M175.2,24.5 V35.5 M172.6,24.5 H177.79999999999998 M172.6,35.5 H177.79999999999998" stroke="#961c1c" stroke-width="1" fill="none"/>
<path d="M183.4,29.0 V40.0 M180.8,29.0 H186.0 M180.8,40.0 H186.0" stroke="#961c1c" stroke-width="1" fill="none"/>
<path d="M191.1,38.0 V49.0 M188.5,38.0 H193.7 M188.5,49.0 H193.7" stroke="#961c1c" stroke-width="1" fill="none"/>
<path d="M197.6,49.0 V60.0 M195.0,49.0 H200.2 M195.0,60.0 H200.2" stroke="#961c1c" stroke-width="1" fill="none"/>
<path d="M204.5,56.5 V67.5 M201.9,56.5 H207.1 M201.9,67.5 H207.1" stroke="#961c1c" stroke-width="1" fill="none"/>
<path d="M207,67.0 V78.0 M204.4,67.0 H209.6 M204.4,78.0 H209.6" stroke="#961c1c" stroke-width="1" fill="none"/>
<path d="M214.4,78.7 V89.7 M211.8,78.7 H217.0 M211.8,89.7 H217.0" stroke="#961c1c" stroke-width="1" fill="none"/>
<path d="M218.5,90.5 V101.5 M215.9,90.5 H221.1 M215.9,101.5 H221.1" stroke="#961c1c" stroke-width="1" fill="none"/>
<path d="M222,100.5 V111.5 M219.4,100.5 H224.6 M219.4,111.5 H224.6" stroke="#961c1c" stroke-width="1" fill="none"/>
<path d="M227.3,112.5 V123.5 M224.70000000000002,112.5 H229.9 M224.70000000000002,123.5 H229.9" stroke="#961c1c" stroke-width="1" fill="none"/>
<path d="M230.5,118.0 V129.0 M227.9,118.0 H233.1 M227.9,129.0 H233.1" stroke="#961c1c" stroke-width="1" fill="none"/>
<path d="M234.4,124.80000000000001 V135.8 M231.8,124.80000000000001 H237.0 M231.8,135.8 H237.0" stroke="#961c1c" stroke-width="1" fill="none"/>
<path d="M237.5,140.5 V151.5 M234.9,140.5 H240.1 M234.9,151.5 H240.1" stroke="#961c1c" stroke-width="1" fill="none"/>
<circle cx="173.5" cy="22.1" r="2.6" fill="#d41a1a" stroke="#801010" stroke-width="0.5"/>
<path d="M172.1,21.6 L174.5,22.400000000000002" stroke="#ffd0d0" stroke-width="0.7"/>
<circle cx="173.2" cy="34.7" r="2.6" fill="#d41a1a" stroke="#801010" stroke-width="0.5"/>
<path d="M171.79999999999998,34.2 L174.2,35.0" stroke="#ffd0d0" stroke-width="0.7"/>
<circle cx="180.3" cy="35.3" r="2.6" fill="#d41a1a" stroke="#801010" stroke-width="0.5"/>
<path d="M178.9,34.8 L181.3,35.599999999999994" stroke="#ffd0d0" stroke-width="0.7"/>
<circle cx="186.2" cy="38" r="2.6" fill="#d41a1a" stroke="#801010" stroke-width="0.5"/>
<path d="M184.79999999999998,37.5 L187.2,38.3" stroke="#ffd0d0" stroke-width="0.7"/>
<circle cx="192.3" cy="48.8" r="2.6" fill="#d41a1a" stroke="#801010" stroke-width="0.5"/>
<path d="M190.9,48.3 L193.3,49.099999999999994" stroke="#ffd0d0" stroke-width="0.7"/>
<circle cx="198.3" cy="52.9" r="2.6" fill="#d41a1a" stroke="#801010" stroke-width="0.5"/>
<path d="M196.9,52.4 L199.3,53.199999999999996" stroke="#ffd0d0" stroke-width="0.7"/>
<circle cx="204" cy="64.3" r="2.6" fill="#d41a1a" stroke="#801010" stroke-width="0.5"/>
<path d="M202.6,63.8 L205,64.6" stroke="#ffd0d0" stroke-width="0.7"/>
<circle cx="209.3" cy="73.8" r="2.6" fill="#d41a1a" stroke="#801010" stroke-width="0.5"/>
<path d="M207.9,73.3 L210.3,74.1" stroke="#ffd0d0" stroke-width="0.7"/>
<polyline points="173.7,97.7 173.7,106.2 186.2,101.1 197.7,103.4 197.7,108 209.2,95.4 215.2,93.7 221.4,99.5 221.8,107.5 228.5,113" fill="none" stroke="#101060" stroke-width="0.9"/>
<path d="M173.7,95.0 V108.0 M170.89999999999998,95.0 H176.5 M170.89999999999998,108.0 H176.5" stroke="#0c0c60" stroke-width="1" fill="none"/>
<path d="M186.2,96.0 V106.19999999999999 M183.39999999999998,96.0 H189.0 M183.39999999999998,106.19999999999999 H189.0" stroke="#0c0c60" stroke-width="1" fill="none"/>
<path d="M197.7,98.5 V113.5 M194.89999999999998,98.5 H200.5 M194.89999999999998,113.5 H200.5" stroke="#0c0c60" stroke-width="1" fill="none"/>
<path d="M209.2,90.9 V99.9 M206.39999999999998,90.9 H212.0 M206.39999999999998,99.9 H212.0" stroke="#0c0c60" stroke-width="1" fill="none"/>
<path d="M221.4,96.5 V109.5 M218.6,96.5 H224.20000000000002 M218.6,109.5 H224.20000000000002" stroke="#0c0c60" stroke-width="1" fill="none"/>
<path d="M228.5,108.5 V117.5 M225.7,108.5 H231.3 M225.7,117.5 H231.3" stroke="#0c0c60" stroke-width="1" fill="none"/>
<circle cx="233.9" cy="140.2" r="4.8" fill="#8fdbe6" opacity="0.85"/>
<circle cx="239.7" cy="156.5" r="4.8" fill="#8fdbe6" opacity="0.85"/>
<circle cx="246.3" cy="174" r="4.8" fill="#8fdbe6" opacity="0.85"/>
<circle cx="251.3" cy="191.4" r="4.8" fill="#8fdbe6" opacity="0.85"/>
<circle cx="173.7" cy="97.7" r="3.9" fill="#1212d4" stroke="#06067a" stroke-width="0.7"/>
<path d="M171.89999999999998,97.5 Q173.7,96.2 175.2,97.2" fill="none" stroke="#9090ff" stroke-width="0.8"/>
<circle cx="173.7" cy="106.2" r="3.9" fill="#1212d4" stroke="#06067a" stroke-width="0.7"/>
<path d="M171.89999999999998,106.0 Q173.7,104.7 175.2,105.7" fill="none" stroke="#9090ff" stroke-width="0.8"/>
<circle cx="186.2" cy="101.1" r="3.9" fill="#1212d4" stroke="#06067a" stroke-width="0.7"/>
<path d="M184.39999999999998,100.89999999999999 Q186.2,99.6 187.7,100.6" fill="none" stroke="#9090ff" stroke-width="0.8"/>
<circle cx="197.7" cy="103.4" r="3.9" fill="#1212d4" stroke="#06067a" stroke-width="0.7"/>
<path d="M195.89999999999998,103.2 Q197.7,101.9 199.2,102.9" fill="none" stroke="#9090ff" stroke-width="0.8"/>
<circle cx="197.7" cy="108" r="3.9" fill="#1212d4" stroke="#06067a" stroke-width="0.7"/>
<path d="M195.89999999999998,107.8 Q197.7,106.5 199.2,107.5" fill="none" stroke="#9090ff" stroke-width="0.8"/>
<circle cx="209.2" cy="95.4" r="3.9" fill="#1212d4" stroke="#06067a" stroke-width="0.7"/>
<path d="M207.39999999999998,95.2 Q209.2,93.9 210.7,94.9" fill="none" stroke="#9090ff" stroke-width="0.8"/>
<circle cx="215.2" cy="93.7" r="3.9" fill="#1212d4" stroke="#06067a" stroke-width="0.7"/>
<path d="M213.39999999999998,93.5 Q215.2,92.2 216.7,93.2" fill="none" stroke="#9090ff" stroke-width="0.8"/>
<circle cx="221.4" cy="99.5" r="3.9" fill="#1212d4" stroke="#06067a" stroke-width="0.7"/>
<path d="M219.6,99.3 Q221.4,98.0 222.9,99.0" fill="none" stroke="#9090ff" stroke-width="0.8"/>
<circle cx="221.8" cy="107.5" r="3.9" fill="#1212d4" stroke="#06067a" stroke-width="0.7"/>
<path d="M220.0,107.3 Q221.8,106.0 223.3,107.0" fill="none" stroke="#9090ff" stroke-width="0.8"/>
<circle cx="228.5" cy="113" r="3.9" fill="#1212d4" stroke="#06067a" stroke-width="0.7"/>
<path d="M226.7,112.8 Q228.5,111.5 230.0,112.5" fill="none" stroke="#9090ff" stroke-width="0.8"/>
<circle cx="234.4" cy="140.2" r="3.9" fill="#1212d4" stroke="#06067a" stroke-width="0.7"/>
<path d="M232.6,140.0 Q234.4,138.7 235.9,139.7" fill="none" stroke="#9090ff" stroke-width="0.8"/>
<circle cx="240.2" cy="156.5" r="3.9" fill="#1212d4" stroke="#06067a" stroke-width="0.7"/>
<path d="M238.39999999999998,156.3 Q240.2,155.0 241.7,156.0" fill="none" stroke="#9090ff" stroke-width="0.8"/>
<circle cx="246.8" cy="174" r="3.9" fill="#1212d4" stroke="#06067a" stroke-width="0.7"/>
<path d="M245.0,173.8 Q246.8,172.5 248.3,173.5" fill="none" stroke="#9090ff" stroke-width="0.8"/>
<circle cx="251.8" cy="191.4" r="3.9" fill="#1212d4" stroke="#06067a" stroke-width="0.7"/>
<path d="M250.0,191.20000000000002 Q251.8,189.9 253.3,190.9" fill="none" stroke="#9090ff" stroke-width="0.8"/>
<circle cx="221.4" cy="99.5" r="1.8" fill="#c03090" opacity="0.45"/>
<circle cx="221.8" cy="107.5" r="1.8" fill="#c03090" opacity="0.45"/>
<circle cx="228.5" cy="113" r="1.8" fill="#c03090" opacity="0.45"/>
<ellipse cx="234.70000000000002" cy="140.2" rx="2.4" ry="3" fill="#b848b0" opacity="0.7"/>
<path d="M233.6,138.7 L235.4,141.39999999999998" stroke="#f0d0f0" stroke-width="0.7"/>
<ellipse cx="240.5" cy="156.5" rx="2.4" ry="3" fill="#b848b0" opacity="0.7"/>
<path d="M239.39999999999998,155.0 L241.2,157.7" stroke="#f0d0f0" stroke-width="0.7"/>
<ellipse cx="247.10000000000002" cy="174" rx="2.4" ry="3" fill="#b848b0" opacity="0.7"/>
<path d="M246.0,172.5 L247.8,175.2" stroke="#f0d0f0" stroke-width="0.7"/>
<ellipse cx="252.10000000000002" cy="191.4" rx="2.4" ry="3" fill="#b848b0" opacity="0.7"/>
<path d="M251.0,189.9 L252.8,192.6" stroke="#f0d0f0" stroke-width="0.7"/>
<polyline points="227.3,118 230.5,123.5 234,130 237.5,146 240.2,156.5 246.8,174 251.8,191.4" fill="none" stroke="#b02040" stroke-width="0.8"/>
<path d="M225.10000000000002,113 H229.5 M225.10000000000002,123 H229.5" stroke="#a02828" stroke-width="0.8" fill="none"/>
<path d="M228.3,118.5 H232.7 M228.3,128.5 H232.7" stroke="#a02828" stroke-width="0.8" fill="none"/>
<path d="M232.20000000000002,125.30000000000001 H236.6 M232.20000000000002,135.3 H236.6" stroke="#a02828" stroke-width="0.8" fill="none"/>
<path d="M235.3,141 H239.7 M235.3,151 H239.7" stroke="#a02828" stroke-width="0.8" fill="none"/>
</svg></body></html>
